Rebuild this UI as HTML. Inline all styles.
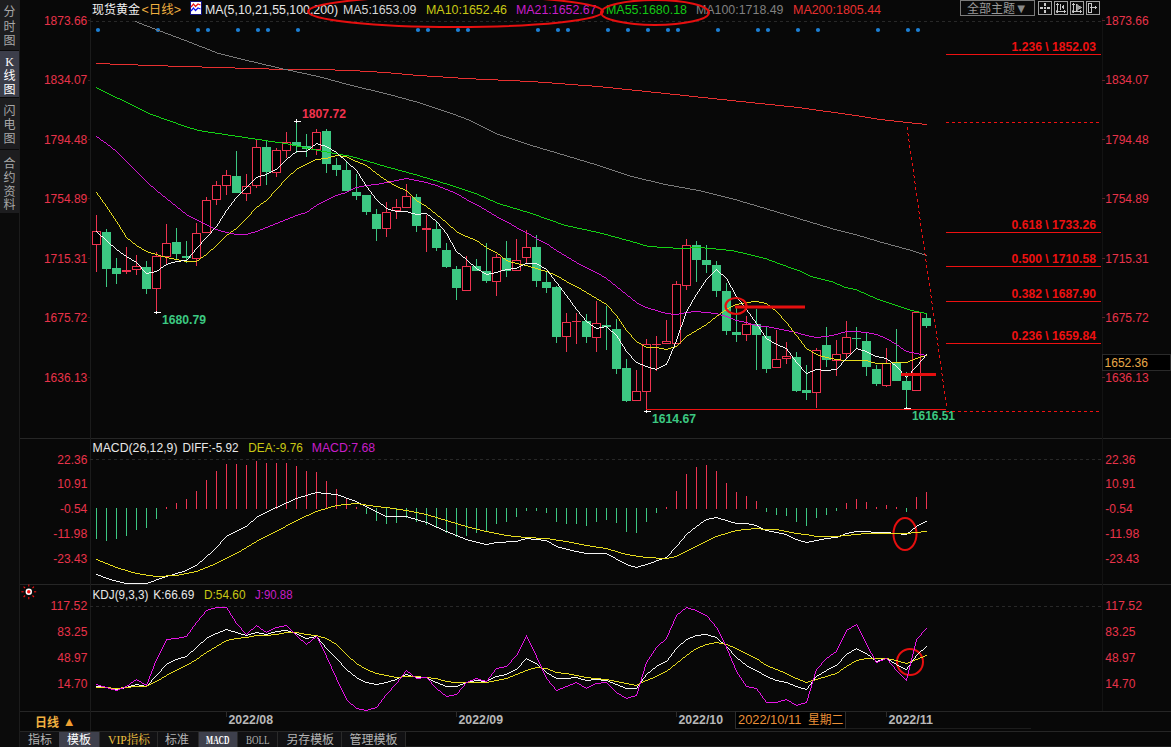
<!DOCTYPE html>
<html><head><meta charset="utf-8"><title>现货黄金 日线</title>
<style>html,body{margin:0;padding:0;background:#080808;}body{width:1171px;height:747px;overflow:hidden;}svg{display:block}text{white-space:pre}</style>
</head><body>
<svg width="1171" height="747" viewBox="0 0 1171 747">
<rect x="0" y="0" width="1171" height="747" fill="#080808"/>
<rect x="0" y="0" width="19" height="747" fill="#0b0b0b"/>
<rect x="0" y="0" width="19" height="50" fill="#1d1d1f"/>
<rect x="0" y="51" width="19" height="46" fill="#3c3e4a"/>
<rect x="0" y="98" width="19" height="51" fill="#1d1d1f"/>
<rect x="0" y="150" width="19" height="63" fill="#1d1d1f"/>
<rect x="19" y="0" width="1" height="747" fill="#1c1c1c"/>
<text fill="#a8a8a8" font-size="12" font-family="&quot;Liberation Sans&quot;,&quot;Noto Sans CJK SC&quot;,sans-serif" text-anchor="middle"><tspan x="9.5" y="15.5">分</tspan><tspan x="9.5" y="30.5">时</tspan><tspan x="9.5" y="44.5">图</tspan></text>
<text fill="#ffffff" font-size="12" font-family="&quot;Liberation Sans&quot;,&quot;Noto Sans CJK SC&quot;,sans-serif" text-anchor="middle"><tspan x="9.5" y="65.5" font-family="&quot;Liberation Serif&quot;,serif">K</tspan><tspan x="9.5" y="79.5">线</tspan><tspan x="9.5" y="93.5">图</tspan></text>
<text fill="#a8a8a8" font-size="12" font-family="&quot;Liberation Sans&quot;,&quot;Noto Sans CJK SC&quot;,sans-serif" text-anchor="middle"><tspan x="9.5" y="114.5">闪</tspan><tspan x="9.5" y="128.5">电</tspan><tspan x="9.5" y="142.5">图</tspan></text>
<text fill="#a8a8a8" font-size="12" font-family="&quot;Liberation Sans&quot;,&quot;Noto Sans CJK SC&quot;,sans-serif" text-anchor="middle"><tspan x="9.5" y="167.5">合</tspan><tspan x="9.5" y="181.5">约</tspan><tspan x="9.5" y="195.5">资</tspan><tspan x="9.5" y="209">料</tspan></text>
<rect x="20" y="438" width="1151" height="1" fill="#262626"/>
<rect x="20" y="584" width="1151" height="1" fill="#262626"/>
<rect x="20" y="711" width="1151" height="1" fill="#262626"/>
<rect x="20" y="731" width="1151" height="1" fill="#262626"/>
<rect x="90" y="18" width="1" height="713" fill="#1b1b1b"/>
<rect x="1102" y="18" width="1" height="693" fill="#131313"/>
<rect x="845" y="728" width="186" height="1" fill="#1c1c1c"/>
<rect x="405" y="746" width="766" height="1" fill="#1c1c1c"/>
<line x1="90" y1="21.5" x2="1102" y2="21.5" stroke="#282828" stroke-width="1" stroke-dasharray="3,3" shape-rendering="crispEdges"/>
<line x1="90" y1="459.5" x2="1102" y2="459.5" stroke="#282828" stroke-width="1" stroke-dasharray="3,3" shape-rendering="crispEdges"/>
<line x1="90" y1="606.5" x2="1102" y2="606.5" stroke="#282828" stroke-width="1" stroke-dasharray="3,3" shape-rendering="crispEdges"/>
<text x="87.3" y="24.8" fill="#e8334a" font-size="12" font-family="&quot;Liberation Sans&quot;,&quot;Noto Sans CJK SC&quot;,sans-serif" font-weight="normal" text-anchor="end" textLength="43.4" lengthAdjust="spacingAndGlyphs" >1873.66</text>
<text x="1105.3" y="24.8" fill="#e8334a" font-size="12" font-family="&quot;Liberation Sans&quot;,&quot;Noto Sans CJK SC&quot;,sans-serif" font-weight="normal" text-anchor="start" textLength="43.4" lengthAdjust="spacingAndGlyphs" >1873.66</text>
<rect x="88" y="20" width="2" height="1" fill="#3a2020"/>
<rect x="1102" y="20" width="3" height="1" fill="#5a2028"/>
<text x="87.3" y="84.3" fill="#e8334a" font-size="12" font-family="&quot;Liberation Sans&quot;,&quot;Noto Sans CJK SC&quot;,sans-serif" font-weight="normal" text-anchor="end" textLength="43.4" lengthAdjust="spacingAndGlyphs" >1834.07</text>
<text x="1105.3" y="84.3" fill="#e8334a" font-size="12" font-family="&quot;Liberation Sans&quot;,&quot;Noto Sans CJK SC&quot;,sans-serif" font-weight="normal" text-anchor="start" textLength="43.4" lengthAdjust="spacingAndGlyphs" >1834.07</text>
<rect x="88" y="80" width="2" height="1" fill="#3a2020"/>
<rect x="1102" y="80" width="3" height="1" fill="#5a2028"/>
<text x="87.3" y="143.8" fill="#e8334a" font-size="12" font-family="&quot;Liberation Sans&quot;,&quot;Noto Sans CJK SC&quot;,sans-serif" font-weight="normal" text-anchor="end" textLength="43.4" lengthAdjust="spacingAndGlyphs" >1794.48</text>
<text x="1105.3" y="143.8" fill="#e8334a" font-size="12" font-family="&quot;Liberation Sans&quot;,&quot;Noto Sans CJK SC&quot;,sans-serif" font-weight="normal" text-anchor="start" textLength="43.4" lengthAdjust="spacingAndGlyphs" >1794.48</text>
<rect x="88" y="139" width="2" height="1" fill="#3a2020"/>
<rect x="1102" y="139" width="3" height="1" fill="#5a2028"/>
<text x="87.3" y="203.10000000000002" fill="#e8334a" font-size="12" font-family="&quot;Liberation Sans&quot;,&quot;Noto Sans CJK SC&quot;,sans-serif" font-weight="normal" text-anchor="end" textLength="43.4" lengthAdjust="spacingAndGlyphs" >1754.89</text>
<text x="1105.3" y="203.10000000000002" fill="#e8334a" font-size="12" font-family="&quot;Liberation Sans&quot;,&quot;Noto Sans CJK SC&quot;,sans-serif" font-weight="normal" text-anchor="start" textLength="43.4" lengthAdjust="spacingAndGlyphs" >1754.89</text>
<rect x="88" y="198" width="2" height="1" fill="#3a2020"/>
<rect x="1102" y="198" width="3" height="1" fill="#5a2028"/>
<text x="87.3" y="262.6" fill="#e8334a" font-size="12" font-family="&quot;Liberation Sans&quot;,&quot;Noto Sans CJK SC&quot;,sans-serif" font-weight="normal" text-anchor="end" textLength="43.4" lengthAdjust="spacingAndGlyphs" >1715.31</text>
<text x="1105.3" y="262.6" fill="#e8334a" font-size="12" font-family="&quot;Liberation Sans&quot;,&quot;Noto Sans CJK SC&quot;,sans-serif" font-weight="normal" text-anchor="start" textLength="43.4" lengthAdjust="spacingAndGlyphs" >1715.31</text>
<rect x="88" y="258" width="2" height="1" fill="#3a2020"/>
<rect x="1102" y="258" width="3" height="1" fill="#5a2028"/>
<text x="87.3" y="322.0" fill="#e8334a" font-size="12" font-family="&quot;Liberation Sans&quot;,&quot;Noto Sans CJK SC&quot;,sans-serif" font-weight="normal" text-anchor="end" textLength="43.4" lengthAdjust="spacingAndGlyphs" >1675.72</text>
<text x="1105.3" y="322.0" fill="#e8334a" font-size="12" font-family="&quot;Liberation Sans&quot;,&quot;Noto Sans CJK SC&quot;,sans-serif" font-weight="normal" text-anchor="start" textLength="43.4" lengthAdjust="spacingAndGlyphs" >1675.72</text>
<rect x="88" y="317" width="2" height="1" fill="#3a2020"/>
<rect x="1102" y="317" width="3" height="1" fill="#5a2028"/>
<text x="87.3" y="381.6" fill="#e8334a" font-size="12" font-family="&quot;Liberation Sans&quot;,&quot;Noto Sans CJK SC&quot;,sans-serif" font-weight="normal" text-anchor="end" textLength="43.4" lengthAdjust="spacingAndGlyphs" >1636.13</text>
<text x="1105.3" y="381.6" fill="#e8334a" font-size="12" font-family="&quot;Liberation Sans&quot;,&quot;Noto Sans CJK SC&quot;,sans-serif" font-weight="normal" text-anchor="start" textLength="43.4" lengthAdjust="spacingAndGlyphs" >1636.13</text>
<rect x="88" y="377" width="2" height="1" fill="#3a2020"/>
<rect x="1102" y="377" width="3" height="1" fill="#5a2028"/>
<text x="87.3" y="463.5" fill="#e8334a" font-size="12" font-family="&quot;Liberation Sans&quot;,&quot;Noto Sans CJK SC&quot;,sans-serif" font-weight="normal" text-anchor="end" textLength="30.0" lengthAdjust="spacingAndGlyphs" >22.36</text>
<text x="1105.3" y="463.5" fill="#e8334a" font-size="12" font-family="&quot;Liberation Sans&quot;,&quot;Noto Sans CJK SC&quot;,sans-serif" font-weight="normal" text-anchor="start" textLength="30.0" lengthAdjust="spacingAndGlyphs" >22.36</text>
<text x="87.3" y="488.3" fill="#e8334a" font-size="12" font-family="&quot;Liberation Sans&quot;,&quot;Noto Sans CJK SC&quot;,sans-serif" font-weight="normal" text-anchor="end" textLength="30.0" lengthAdjust="spacingAndGlyphs" >10.91</text>
<text x="1105.3" y="488.3" fill="#e8334a" font-size="12" font-family="&quot;Liberation Sans&quot;,&quot;Noto Sans CJK SC&quot;,sans-serif" font-weight="normal" text-anchor="start" textLength="30.0" lengthAdjust="spacingAndGlyphs" >10.91</text>
<text x="87.3" y="513.3" fill="#e8334a" font-size="12" font-family="&quot;Liberation Sans&quot;,&quot;Noto Sans CJK SC&quot;,sans-serif" font-weight="normal" text-anchor="end" textLength="27.4" lengthAdjust="spacingAndGlyphs" >-0.54</text>
<text x="1105.3" y="513.3" fill="#e8334a" font-size="12" font-family="&quot;Liberation Sans&quot;,&quot;Noto Sans CJK SC&quot;,sans-serif" font-weight="normal" text-anchor="start" textLength="27.4" lengthAdjust="spacingAndGlyphs" >-0.54</text>
<text x="87.3" y="538.3" fill="#e8334a" font-size="12" font-family="&quot;Liberation Sans&quot;,&quot;Noto Sans CJK SC&quot;,sans-serif" font-weight="normal" text-anchor="end" textLength="34.0" lengthAdjust="spacingAndGlyphs" >-11.98</text>
<text x="1105.3" y="538.3" fill="#e8334a" font-size="12" font-family="&quot;Liberation Sans&quot;,&quot;Noto Sans CJK SC&quot;,sans-serif" font-weight="normal" text-anchor="start" textLength="34.0" lengthAdjust="spacingAndGlyphs" >-11.98</text>
<text x="87.3" y="563.0999999999999" fill="#e8334a" font-size="12" font-family="&quot;Liberation Sans&quot;,&quot;Noto Sans CJK SC&quot;,sans-serif" font-weight="normal" text-anchor="end" textLength="34.0" lengthAdjust="spacingAndGlyphs" >-23.43</text>
<text x="1105.3" y="563.0999999999999" fill="#e8334a" font-size="12" font-family="&quot;Liberation Sans&quot;,&quot;Noto Sans CJK SC&quot;,sans-serif" font-weight="normal" text-anchor="start" textLength="34.0" lengthAdjust="spacingAndGlyphs" >-23.43</text>
<text x="87.3" y="609.9" fill="#e8334a" font-size="12" font-family="&quot;Liberation Sans&quot;,&quot;Noto Sans CJK SC&quot;,sans-serif" font-weight="normal" text-anchor="end" textLength="36.7" lengthAdjust="spacingAndGlyphs" >117.52</text>
<text x="1105.3" y="609.9" fill="#e8334a" font-size="12" font-family="&quot;Liberation Sans&quot;,&quot;Noto Sans CJK SC&quot;,sans-serif" font-weight="normal" text-anchor="start" textLength="36.7" lengthAdjust="spacingAndGlyphs" >117.52</text>
<text x="87.3" y="636.0" fill="#e8334a" font-size="12" font-family="&quot;Liberation Sans&quot;,&quot;Noto Sans CJK SC&quot;,sans-serif" font-weight="normal" text-anchor="end" textLength="30.0" lengthAdjust="spacingAndGlyphs" >83.25</text>
<text x="1105.3" y="636.0" fill="#e8334a" font-size="12" font-family="&quot;Liberation Sans&quot;,&quot;Noto Sans CJK SC&quot;,sans-serif" font-weight="normal" text-anchor="start" textLength="30.0" lengthAdjust="spacingAndGlyphs" >83.25</text>
<text x="87.3" y="662.3" fill="#e8334a" font-size="12" font-family="&quot;Liberation Sans&quot;,&quot;Noto Sans CJK SC&quot;,sans-serif" font-weight="normal" text-anchor="end" textLength="30.0" lengthAdjust="spacingAndGlyphs" >48.97</text>
<text x="1105.3" y="662.3" fill="#e8334a" font-size="12" font-family="&quot;Liberation Sans&quot;,&quot;Noto Sans CJK SC&quot;,sans-serif" font-weight="normal" text-anchor="start" textLength="30.0" lengthAdjust="spacingAndGlyphs" >48.97</text>
<text x="87.3" y="688.3" fill="#e8334a" font-size="12" font-family="&quot;Liberation Sans&quot;,&quot;Noto Sans CJK SC&quot;,sans-serif" font-weight="normal" text-anchor="end" textLength="30.0" lengthAdjust="spacingAndGlyphs" >14.70</text>
<text x="1105.3" y="688.3" fill="#e8334a" font-size="12" font-family="&quot;Liberation Sans&quot;,&quot;Noto Sans CJK SC&quot;,sans-serif" font-weight="normal" text-anchor="start" textLength="30.0" lengthAdjust="spacingAndGlyphs" >14.70</text>
<text x="92" y="14" fill="#f2f2f2" font-size="12" font-family="&quot;Liberation Sans&quot;,&quot;Noto Sans CJK SC&quot;,sans-serif" font-weight="normal" text-anchor="start" textLength="48" lengthAdjust="spacingAndGlyphs" >现货黄金</text>
<text x="141.5" y="14" fill="#f0b040" font-size="12" font-family="&quot;Liberation Sans&quot;,&quot;Noto Sans CJK SC&quot;,sans-serif" font-weight="normal" text-anchor="start" textLength="39.5" lengthAdjust="spacingAndGlyphs" >&lt;日线&gt;</text>
<g shape-rendering="crispEdges"><rect x="190" y="1.5" width="11.5" height="12.5" fill="#ffffff" stroke="#101080" stroke-width="1"/></g>
<polyline points="191,7 193.5,4 195.5,6.5 198,4 200.5,5" fill="none" stroke="#ee1111" stroke-width="1.2"/>
<polyline points="191,11 193.5,8 195.5,10.5 198,8 200.5,9" fill="none" stroke="#1111ee" stroke-width="1.2"/>
<text x="205" y="14" fill="#e8e8e8" font-size="12" font-family="&quot;Liberation Sans&quot;,&quot;Noto Sans CJK SC&quot;,sans-serif" font-weight="normal" text-anchor="start" textLength="133" lengthAdjust="spacingAndGlyphs" >MA(5,10,21,55,100,200)</text>
<text x="343" y="14" fill="#d8d8d8" font-size="12" font-family="&quot;Liberation Sans&quot;,&quot;Noto Sans CJK SC&quot;,sans-serif" font-weight="normal" text-anchor="start" textLength="73.5" lengthAdjust="spacingAndGlyphs" >MA5:1653.09</text>
<text x="426" y="14" fill="#c8c814" font-size="12" font-family="&quot;Liberation Sans&quot;,&quot;Noto Sans CJK SC&quot;,sans-serif" font-weight="normal" text-anchor="start" textLength="81" lengthAdjust="spacingAndGlyphs" >MA10:1652.46</text>
<text x="516" y="14" fill="#c81ec8" font-size="12" font-family="&quot;Liberation Sans&quot;,&quot;Noto Sans CJK SC&quot;,sans-serif" font-weight="normal" text-anchor="start" textLength="80.5" lengthAdjust="spacingAndGlyphs" >MA21:1652.67</text>
<text x="606" y="14" fill="#14c814" font-size="12" font-family="&quot;Liberation Sans&quot;,&quot;Noto Sans CJK SC&quot;,sans-serif" font-weight="normal" text-anchor="start" textLength="81" lengthAdjust="spacingAndGlyphs" >MA55:1680.18</text>
<text x="696" y="14" fill="#808080" font-size="12" font-family="&quot;Liberation Sans&quot;,&quot;Noto Sans CJK SC&quot;,sans-serif" font-weight="normal" text-anchor="start" textLength="87.5" lengthAdjust="spacingAndGlyphs" >MA100:1718.49</text>
<text x="793" y="14" fill="#e83030" font-size="12" font-family="&quot;Liberation Sans&quot;,&quot;Noto Sans CJK SC&quot;,sans-serif" font-weight="normal" text-anchor="start" textLength="88" lengthAdjust="spacingAndGlyphs" >MA200:1805.44</text>
<g shape-rendering="crispEdges">
<rect x="960.5" y="0.5" width="74" height="15" fill="#0a0a0a" stroke="#7c7c7c"/>
<rect x="1038.5" y="1.5" width="13" height="13" fill="#0a0a0a" stroke="#a0a0a0"/>
<rect x="1054.5" y="1.5" width="13" height="13" fill="#0a0a0a" stroke="#a0a0a0"/>
<rect x="1070.5" y="1.5" width="13" height="13" fill="#0a0a0a" stroke="#a0a0a0"/>
<rect x="1086.5" y="1.5" width="13" height="13" fill="#0a0a0a" stroke="#a0a0a0"/>
<rect x="1044" y="3" width="2" height="3" fill="#c8c8c8"/><rect x="1044" y="10" width="2" height="3" fill="#c8c8c8"/><rect x="1040" y="7" width="3" height="2" fill="#c8c8c8"/><rect x="1047" y="7" width="3" height="2" fill="#c8c8c8"/><rect x="1044" y="7" width="2" height="2" fill="#c8c8c8"/>
<rect x="1057" y="3" width="1" height="10" fill="#c8c8c8"/><rect x="1056" y="11" width="10" height="1" fill="#c8c8c8"/>
<rect x="1056" y="4" width="3" height="1" fill="#c8c8c8"/><rect x="1064" y="10" width="1" height="3" fill="#c8c8c8"/><rect x="1056" y="10" width="1" height="3" fill="#c8c8c8" opacity="0.6"/>
<rect x="1073" y="3" width="1" height="10" fill="#c8c8c8"/><rect x="1072" y="11" width="10" height="1" fill="#c8c8c8"/>
<rect x="1072" y="4" width="3" height="1" fill="#c8c8c8"/><rect x="1080" y="10" width="1" height="3" fill="#c8c8c8"/><rect x="1072" y="10" width="1" height="3" fill="#c8c8c8" opacity="0.6"/>
<rect x="1060" y="4" width="1" height="6" fill="#c8c8c8"/>
<polygon points="1061.5,7 1064,4.3 1064,9.7" fill="#c8c8c8"/>
<polygon points="1076,4 1081.5,7.5 1076,11" fill="#989898" stroke="#c8c8c8" stroke-width="0.6"/>
<rect x="1088.5" y="3.5" width="3" height="9" fill="none" stroke="#c8c8c8"/><rect x="1090" y="7" width="6" height="1" fill="#c8c8c8"/>
<polygon points="1094.5,5 1097.5,7.5 1094.5,10" fill="#c8c8c8"/>
</g>
<text x="967" y="13" fill="#9a9a9a" font-size="12" font-family="&quot;Liberation Sans&quot;,&quot;Noto Sans CJK SC&quot;,sans-serif" font-weight="normal" text-anchor="start" textLength="48" lengthAdjust="spacingAndGlyphs" >全部主题</text>
<text x="1014.7" y="13" fill="#8a8a8a" font-size="13" font-family="&quot;Liberation Sans&quot;,&quot;Noto Sans CJK SC&quot;,sans-serif" font-weight="normal" text-anchor="start" >▼</text>
<circle cx="98" cy="30" r="2.1" fill="#1c80d6"/>
<circle cx="158" cy="30" r="2.1" fill="#1c80d6"/>
<circle cx="198" cy="30" r="2.1" fill="#1c80d6"/>
<circle cx="208" cy="30" r="2.1" fill="#1c80d6"/>
<circle cx="238" cy="30" r="2.1" fill="#1c80d6"/>
<circle cx="258" cy="30" r="2.1" fill="#1c80d6"/>
<circle cx="268" cy="30" r="2.1" fill="#1c80d6"/>
<circle cx="298" cy="30" r="2.1" fill="#1c80d6"/>
<circle cx="418" cy="30" r="2.1" fill="#1c80d6"/>
<circle cx="428" cy="30" r="2.1" fill="#1c80d6"/>
<circle cx="458" cy="30" r="2.1" fill="#1c80d6"/>
<circle cx="468" cy="30" r="2.1" fill="#1c80d6"/>
<circle cx="538" cy="30" r="2.1" fill="#1c80d6"/>
<circle cx="558" cy="30" r="2.1" fill="#1c80d6"/>
<circle cx="568" cy="30" r="2.1" fill="#1c80d6"/>
<circle cx="608" cy="30" r="2.1" fill="#1c80d6"/>
<circle cx="628" cy="30" r="2.1" fill="#1c80d6"/>
<circle cx="648" cy="30" r="2.1" fill="#1c80d6"/>
<circle cx="668" cy="30" r="2.1" fill="#1c80d6"/>
<circle cx="678" cy="30" r="2.1" fill="#1c80d6"/>
<circle cx="718" cy="30" r="2.1" fill="#1c80d6"/>
<circle cx="758" cy="30" r="2.1" fill="#1c80d6"/>
<circle cx="768" cy="30" r="2.1" fill="#1c80d6"/>
<circle cx="798" cy="30" r="2.1" fill="#1c80d6"/>
<circle cx="818" cy="30" r="2.1" fill="#1c80d6"/>
<circle cx="878" cy="30" r="2.1" fill="#1c80d6"/>
<circle cx="908" cy="30" r="2.1" fill="#1c80d6"/>
<circle cx="918" cy="30" r="2.1" fill="#1c80d6"/>
<g shape-rendering="crispEdges">
<rect x="96.0" y="215" width="1" height="16" fill="#ee3350"/>
<rect x="96.0" y="245" width="1" height="27" fill="#ee3350"/>
<rect x="92.5" y="231.5" width="8" height="13" fill="#000" stroke="#ee3350" stroke-width="1"/>
<rect x="106.0" y="229" width="1" height="58" fill="#3cc882"/>
<rect x="102.0" y="232" width="9" height="37" fill="#3cc882"/>
<rect x="116.0" y="258" width="1" height="26" fill="#3cc882"/>
<rect x="112.0" y="268" width="9" height="6" fill="#3cc882"/>
<rect x="126.0" y="247" width="1" height="23" fill="#ee3350"/>
<rect x="126.0" y="272" width="1" height="2" fill="#ee3350"/>
<rect x="122.0" y="270" width="9" height="2" fill="#ee3350"/>
<rect x="136.0" y="255" width="1" height="11" fill="#ee3350"/>
<rect x="136.0" y="270" width="1" height="5" fill="#ee3350"/>
<rect x="132.5" y="266.5" width="8" height="3" fill="#000" stroke="#ee3350" stroke-width="1"/>
<rect x="146.0" y="261" width="1" height="33" fill="#3cc882"/>
<rect x="142.0" y="267" width="9" height="22" fill="#3cc882"/>
<rect x="156.0" y="252" width="1" height="4" fill="#ee3350"/>
<rect x="156.0" y="289" width="1" height="23" fill="#ee3350"/>
<rect x="152.5" y="256.5" width="8" height="32" fill="#000" stroke="#ee3350" stroke-width="1"/>
<rect x="166.0" y="224" width="1" height="19" fill="#ee3350"/>
<rect x="166.0" y="257" width="1" height="7" fill="#ee3350"/>
<rect x="162.5" y="243.5" width="8" height="13" fill="#000" stroke="#ee3350" stroke-width="1"/>
<rect x="176.0" y="228" width="1" height="31" fill="#3cc882"/>
<rect x="172.0" y="242" width="9" height="12" fill="#3cc882"/>
<rect x="186.0" y="241" width="1" height="22" fill="#3cc882"/>
<rect x="182.0" y="256" width="9" height="2" fill="#3cc882"/>
<rect x="196.0" y="223" width="1" height="10" fill="#ee3350"/>
<rect x="196.0" y="259" width="1" height="7" fill="#ee3350"/>
<rect x="192.5" y="233.5" width="8" height="25" fill="#000" stroke="#ee3350" stroke-width="1"/>
<rect x="206.0" y="197" width="1" height="3" fill="#ee3350"/>
<rect x="202.5" y="200.5" width="8" height="32" fill="#000" stroke="#ee3350" stroke-width="1"/>
<rect x="216.0" y="181" width="1" height="4" fill="#ee3350"/>
<rect x="216.0" y="200" width="1" height="5" fill="#ee3350"/>
<rect x="212.5" y="185.5" width="8" height="14" fill="#000" stroke="#ee3350" stroke-width="1"/>
<rect x="226.0" y="170" width="1" height="5" fill="#ee3350"/>
<rect x="226.0" y="186" width="1" height="9" fill="#ee3350"/>
<rect x="222.5" y="175.5" width="8" height="10" fill="#000" stroke="#ee3350" stroke-width="1"/>
<rect x="236.0" y="151" width="1" height="42" fill="#3cc882"/>
<rect x="232.0" y="176" width="9" height="17" fill="#3cc882"/>
<rect x="246.0" y="174" width="1" height="12" fill="#ee3350"/>
<rect x="246.0" y="194" width="1" height="7" fill="#ee3350"/>
<rect x="242.5" y="186.5" width="8" height="7" fill="#000" stroke="#ee3350" stroke-width="1"/>
<rect x="256.0" y="140" width="1" height="7" fill="#ee3350"/>
<rect x="256.0" y="186" width="1" height="2" fill="#ee3350"/>
<rect x="252.5" y="147.5" width="8" height="38" fill="#000" stroke="#ee3350" stroke-width="1"/>
<rect x="266.0" y="140" width="1" height="45" fill="#3cc882"/>
<rect x="262.0" y="147" width="9" height="25" fill="#3cc882"/>
<rect x="276.0" y="148" width="1" height="2" fill="#ee3350"/>
<rect x="276.0" y="173" width="1" height="4" fill="#ee3350"/>
<rect x="272.5" y="150.5" width="8" height="22" fill="#000" stroke="#ee3350" stroke-width="1"/>
<rect x="286.0" y="132" width="1" height="10" fill="#ee3350"/>
<rect x="286.0" y="151" width="1" height="7" fill="#ee3350"/>
<rect x="282.5" y="142.5" width="8" height="8" fill="#000" stroke="#ee3350" stroke-width="1"/>
<rect x="296.0" y="121" width="1" height="32" fill="#3cc882"/>
<rect x="292.0" y="142" width="9" height="4" fill="#3cc882"/>
<rect x="306.0" y="134" width="1" height="23" fill="#3cc882"/>
<rect x="302.0" y="146" width="9" height="3" fill="#3cc882"/>
<rect x="316.0" y="129" width="1" height="3" fill="#ee3350"/>
<rect x="316.0" y="150" width="1" height="5" fill="#ee3350"/>
<rect x="312.5" y="132.5" width="8" height="17" fill="#000" stroke="#ee3350" stroke-width="1"/>
<rect x="326.0" y="129" width="1" height="44" fill="#3cc882"/>
<rect x="322.0" y="131" width="9" height="33" fill="#3cc882"/>
<rect x="336.0" y="158" width="1" height="18" fill="#3cc882"/>
<rect x="332.0" y="165" width="9" height="5" fill="#3cc882"/>
<rect x="346.0" y="161" width="1" height="30" fill="#3cc882"/>
<rect x="342.0" y="170" width="9" height="21" fill="#3cc882"/>
<rect x="356.0" y="174" width="1" height="26" fill="#3cc882"/>
<rect x="352.0" y="192" width="9" height="4" fill="#3cc882"/>
<rect x="366.0" y="195" width="1" height="20" fill="#3cc882"/>
<rect x="362.0" y="195" width="9" height="17" fill="#3cc882"/>
<rect x="376.0" y="209" width="1" height="32" fill="#3cc882"/>
<rect x="372.0" y="214" width="9" height="15" fill="#3cc882"/>
<rect x="386.0" y="202" width="1" height="10" fill="#ee3350"/>
<rect x="386.0" y="229" width="1" height="8" fill="#ee3350"/>
<rect x="382.5" y="212.5" width="8" height="16" fill="#000" stroke="#ee3350" stroke-width="1"/>
<rect x="396.0" y="199" width="1" height="8" fill="#ee3350"/>
<rect x="396.0" y="211" width="1" height="8" fill="#ee3350"/>
<rect x="392.5" y="207.5" width="8" height="3" fill="#000" stroke="#ee3350" stroke-width="1"/>
<rect x="406.0" y="184" width="1" height="12" fill="#ee3350"/>
<rect x="402.5" y="196.5" width="8" height="11" fill="#000" stroke="#ee3350" stroke-width="1"/>
<rect x="416.0" y="194" width="1" height="38" fill="#3cc882"/>
<rect x="412.0" y="197" width="9" height="29" fill="#3cc882"/>
<rect x="426.0" y="215" width="1" height="13" fill="#ee3350"/>
<rect x="426.0" y="230" width="1" height="22" fill="#ee3350"/>
<rect x="422.0" y="228" width="9" height="2" fill="#ee3350"/>
<rect x="436.0" y="222" width="1" height="29" fill="#3cc882"/>
<rect x="432.0" y="229" width="9" height="19" fill="#3cc882"/>
<rect x="446.0" y="243" width="1" height="25" fill="#3cc882"/>
<rect x="442.0" y="250" width="9" height="17" fill="#3cc882"/>
<rect x="456.0" y="266" width="1" height="34" fill="#3cc882"/>
<rect x="452.0" y="269" width="9" height="19" fill="#3cc882"/>
<rect x="466.0" y="256" width="1" height="10" fill="#ee3350"/>
<rect x="462.5" y="266.5" width="8" height="24" fill="#000" stroke="#ee3350" stroke-width="1"/>
<rect x="476.0" y="259" width="1" height="12" fill="#3cc882"/>
<rect x="472.0" y="266" width="9" height="5" fill="#3cc882"/>
<rect x="486.0" y="243" width="1" height="40" fill="#3cc882"/>
<rect x="482.0" y="271" width="9" height="10" fill="#3cc882"/>
<rect x="496.0" y="254" width="1" height="3" fill="#ee3350"/>
<rect x="496.0" y="282" width="1" height="14" fill="#ee3350"/>
<rect x="492.5" y="257.5" width="8" height="24" fill="#000" stroke="#ee3350" stroke-width="1"/>
<rect x="506.0" y="241" width="1" height="36" fill="#3cc882"/>
<rect x="502.0" y="258" width="9" height="13" fill="#3cc882"/>
<rect x="516.0" y="239" width="1" height="21" fill="#ee3350"/>
<rect x="512.5" y="260.5" width="8" height="10" fill="#000" stroke="#ee3350" stroke-width="1"/>
<rect x="526.0" y="230" width="1" height="17" fill="#ee3350"/>
<rect x="526.0" y="258" width="1" height="6" fill="#ee3350"/>
<rect x="522.5" y="247.5" width="8" height="10" fill="#000" stroke="#ee3350" stroke-width="1"/>
<rect x="536.0" y="235" width="1" height="52" fill="#3cc882"/>
<rect x="532.0" y="247" width="9" height="34" fill="#3cc882"/>
<rect x="546.0" y="272" width="1" height="21" fill="#3cc882"/>
<rect x="542.0" y="282" width="9" height="6" fill="#3cc882"/>
<rect x="556.0" y="286" width="1" height="57" fill="#3cc882"/>
<rect x="552.0" y="287" width="9" height="50" fill="#3cc882"/>
<rect x="566.0" y="313" width="1" height="9" fill="#ee3350"/>
<rect x="566.0" y="337" width="1" height="15" fill="#ee3350"/>
<rect x="562.5" y="322.5" width="8" height="14" fill="#000" stroke="#ee3350" stroke-width="1"/>
<rect x="576.0" y="313" width="1" height="8" fill="#ee3350"/>
<rect x="576.0" y="322" width="1" height="22" fill="#ee3350"/>
<rect x="572.0" y="321" width="9" height="1" fill="#ee3350"/>
<rect x="586.0" y="314" width="1" height="29" fill="#3cc882"/>
<rect x="582.0" y="321" width="9" height="16" fill="#3cc882"/>
<rect x="596.0" y="301" width="1" height="22" fill="#ee3350"/>
<rect x="596.0" y="338" width="1" height="14" fill="#ee3350"/>
<rect x="592.5" y="323.5" width="8" height="14" fill="#000" stroke="#ee3350" stroke-width="1"/>
<rect x="606.0" y="306" width="1" height="44" fill="#3cc882"/>
<rect x="602.0" y="325" width="9" height="2" fill="#3cc882"/>
<rect x="616.0" y="319" width="1" height="55" fill="#3cc882"/>
<rect x="612.0" y="329" width="9" height="40" fill="#3cc882"/>
<rect x="626.0" y="359" width="1" height="43" fill="#3cc882"/>
<rect x="622.0" y="368" width="9" height="33" fill="#3cc882"/>
<rect x="636.0" y="370" width="1" height="21" fill="#ee3350"/>
<rect x="632.5" y="391.5" width="8" height="9" fill="#000" stroke="#ee3350" stroke-width="1"/>
<rect x="646.0" y="339" width="1" height="5" fill="#ee3350"/>
<rect x="646.0" y="392" width="1" height="20" fill="#ee3350"/>
<rect x="642.5" y="344.5" width="8" height="47" fill="#000" stroke="#ee3350" stroke-width="1"/>
<rect x="656.0" y="336" width="1" height="8" fill="#ee3350"/>
<rect x="656.0" y="345" width="1" height="26" fill="#ee3350"/>
<rect x="652.0" y="344" width="9" height="1" fill="#ee3350"/>
<rect x="666.0" y="320" width="1" height="21" fill="#ee3350"/>
<rect x="662.5" y="341.5" width="8" height="2" fill="#000" stroke="#ee3350" stroke-width="1"/>
<rect x="676.0" y="281" width="1" height="3" fill="#ee3350"/>
<rect x="672.5" y="284.5" width="8" height="59" fill="#000" stroke="#ee3350" stroke-width="1"/>
<rect x="686.0" y="239" width="1" height="6" fill="#ee3350"/>
<rect x="686.0" y="286" width="1" height="4" fill="#ee3350"/>
<rect x="682.5" y="245.5" width="8" height="40" fill="#000" stroke="#ee3350" stroke-width="1"/>
<rect x="696.0" y="241" width="1" height="41" fill="#3cc882"/>
<rect x="692.0" y="245" width="9" height="15" fill="#3cc882"/>
<rect x="706.0" y="245" width="1" height="28" fill="#3cc882"/>
<rect x="702.0" y="260" width="9" height="5" fill="#3cc882"/>
<rect x="716.0" y="261" width="1" height="36" fill="#3cc882"/>
<rect x="712.0" y="265" width="9" height="26" fill="#3cc882"/>
<rect x="726.0" y="283" width="1" height="52" fill="#3cc882"/>
<rect x="722.0" y="291" width="9" height="40" fill="#3cc882"/>
<rect x="736.0" y="308" width="1" height="34" fill="#3cc882"/>
<rect x="732.0" y="332" width="9" height="3" fill="#3cc882"/>
<rect x="746.0" y="316" width="1" height="8" fill="#ee3350"/>
<rect x="746.0" y="335" width="1" height="6" fill="#ee3350"/>
<rect x="742.5" y="324.5" width="8" height="10" fill="#000" stroke="#ee3350" stroke-width="1"/>
<rect x="756.0" y="309" width="1" height="61" fill="#3cc882"/>
<rect x="752.0" y="324" width="9" height="11" fill="#3cc882"/>
<rect x="766.0" y="327" width="1" height="46" fill="#3cc882"/>
<rect x="762.0" y="336" width="9" height="33" fill="#3cc882"/>
<rect x="776.0" y="330" width="1" height="29" fill="#ee3350"/>
<rect x="772.5" y="359.5" width="8" height="8" fill="#000" stroke="#ee3350" stroke-width="1"/>
<rect x="786.0" y="342" width="1" height="14" fill="#ee3350"/>
<rect x="786.0" y="359" width="1" height="5" fill="#ee3350"/>
<rect x="782.5" y="356.5" width="8" height="2" fill="#000" stroke="#ee3350" stroke-width="1"/>
<rect x="796.0" y="352" width="1" height="40" fill="#3cc882"/>
<rect x="792.0" y="357" width="9" height="34" fill="#3cc882"/>
<rect x="806.0" y="365" width="1" height="35" fill="#3cc882"/>
<rect x="802.0" y="390" width="9" height="3" fill="#3cc882"/>
<rect x="816.0" y="348" width="1" height="2" fill="#ee3350"/>
<rect x="816.0" y="393" width="1" height="15" fill="#ee3350"/>
<rect x="812.5" y="350.5" width="8" height="42" fill="#000" stroke="#ee3350" stroke-width="1"/>
<rect x="826.0" y="327" width="1" height="40" fill="#3cc882"/>
<rect x="822.0" y="345" width="9" height="15" fill="#3cc882"/>
<rect x="836.0" y="340" width="1" height="14" fill="#ee3350"/>
<rect x="836.0" y="361" width="1" height="15" fill="#ee3350"/>
<rect x="832.5" y="354.5" width="8" height="6" fill="#000" stroke="#ee3350" stroke-width="1"/>
<rect x="846.0" y="321" width="1" height="16" fill="#ee3350"/>
<rect x="846.0" y="354" width="1" height="5" fill="#ee3350"/>
<rect x="842.5" y="337.5" width="8" height="16" fill="#000" stroke="#ee3350" stroke-width="1"/>
<rect x="856.0" y="327" width="1" height="21" fill="#3cc882"/>
<rect x="852.0" y="338" width="9" height="1" fill="#3cc882"/>
<rect x="866.0" y="333" width="1" height="43" fill="#3cc882"/>
<rect x="862.0" y="341" width="9" height="26" fill="#3cc882"/>
<rect x="876.0" y="365" width="1" height="21" fill="#3cc882"/>
<rect x="872.0" y="369" width="9" height="15" fill="#3cc882"/>
<rect x="886.0" y="348" width="1" height="15" fill="#ee3350"/>
<rect x="886.0" y="386" width="1" height="1" fill="#ee3350"/>
<rect x="882.5" y="363.5" width="8" height="22" fill="#000" stroke="#ee3350" stroke-width="1"/>
<rect x="896.0" y="329" width="1" height="52" fill="#3cc882"/>
<rect x="892.0" y="363" width="9" height="18" fill="#3cc882"/>
<rect x="906.0" y="372" width="1" height="37" fill="#3cc882"/>
<rect x="902.0" y="381" width="9" height="9" fill="#3cc882"/>
<rect x="912.5" y="312.5" width="8" height="78" fill="#000" stroke="#ee3350" stroke-width="1"/>
<rect x="926.0" y="313" width="1" height="15" fill="#3cc882"/>
<rect x="922.0" y="318" width="9" height="8" fill="#3cc882"/>
</g>
<path d="M765 104.5h10M727 100.5h9M912 123.5h10M865 117.5h6M802 108.5h7M335 70.5h25M427 76.5h16M476 79.5h22M922 124.5h5M809 109.5h7M269 69.5h66M689 96.5h9M552 83.5h13M202 67.5h33M96 63.5h14M168 66.5h34M377 72.5h14M859 116.5h6M816 110.5h7M698 97.5h10M565 84.5h13M592 86.5h11M110 64.5h28M823 111.5h8M458 78.5h18M708 98.5h9M578 85.5h14M838 113.5h7M622 89.5h10M443 77.5h15M498 80.5h22M871 118.5h6M831 112.5h7M736 101.5h10M755 103.5h10M680 95.5h9M903 122.5h9M613 88.5h9M520 81.5h18M235 68.5h34M632 90.5h10M360 71.5h17M391 73.5h11M746 102.5h9M894 121.5h9M138 65.5h30M402 74.5h11M775 105.5h9M717 99.5h10M651 92.5h10M670 94.5h10M413 75.5h14M661 93.5h9M845 114.5h7M877 119.5h8M603 87.5h10M538 82.5h14M885 120.5h9M642 91.5h9M784 106.5h10M794 107.5h8M852 115.5h7" fill="none" stroke="#e83030" stroke-width="1" shape-rendering="crispEdges"/>
<path d="M743 202.5h4M790 216.5h4M402 98.5h4M176 37.5h3M466 119.5h3M922 254.5h3M279 68.5h4M533 146.5h4M509 138.5h3M383 93.5h4M590 163.5h4M406 99.5h3M168 34.5h3M685 188.5h5M764 208.5h3M663 184.5h5M241 59.5h4M737 200.5h3M302 73.5h5M283 69.5h5M820 225.5h3M512 139.5h3M841 231.5h4M594 164.5h3M895 246.5h4M181 39.5h3M471 121.5h2M221 54.5h4M627 175.5h3M717 195.5h4M701 191.5h4M262 64.5h4M668 185.5h6M245 60.5h4M651 181.5h4M740 201.5h3M503 136.5h3M803 220.5h4M537 147.5h3M823 226.5h4M342 83.5h4M877 241.5h3M173 36.5h3M899 247.5h3M630 176.5h4M767 209.5h3M324 78.5h4M567 156.5h3M362 88.5h4M540 148.5h3M139 23.5h3M438 109.5h3M750 204.5h4M184 40.5h3M797 218.5h3M366 89.5h5M543 149.5h4M266 65.5h5M770 210.5h4M624 174.5h3M441 110.5h3M515 140.5h3M229 56.5h4M297 72.5h5M845 232.5h4M432 107.5h3M597 165.5h3M135 21.5h2M674 186.5h5M249 61.5h5M320 77.5h4M179 38.5h2M827 227.5h3M518 141.5h3M800 219.5h3M387 94.5h4M849 233.5h4M435 108.5h3M902 248.5h4M747 203.5h3M830 228.5h3M350 85.5h4M391 95.5h4M906 249.5h4M225 55.5h4M721 196.5h4M774 211.5h3M331 80.5h4M409 100.5h4M547 150.5h3M880 242.5h4M199 46.5h3M757 206.5h3M189 42.5h3M293 71.5h4M147 26.5h3M550 151.5h4M777 212.5h3M570 157.5h4M447 112.5h3M606 168.5h3M192 43.5h2M142 24.5h2M655 182.5h4M780 213.5h4M346 84.5h4M521 142.5h3M307 74.5h4M853 234.5h4M413 101.5h4M634 177.5h4M609 169.5h3M194 44.5h3M328 79.5h3M833 229.5h4M807 221.5h3M395 96.5h3M857 235.5h3M600 166.5h3M187 41.5h2M417 102.5h3M580 160.5h4M210 50.5h2M288 70.5h5M271 66.5h4M527 144.5h3M810 222.5h3M398 97.5h4M152 28.5h3M233 57.5h4M638 178.5h4M729 198.5h4M813 223.5h4M574 158.5h3M371 90.5h4M144 25.5h3M888 244.5h3M709 193.5h4M205 48.5h2M690 189.5h6M311 75.5h5M557 153.5h3M784 214.5h3M530 145.5h3M577 159.5h3M157 30.5h3M612 170.5h3M787 215.5h3M354 86.5h4M760 207.5h4M254 62.5h4M860 236.5h4M150 27.5h2M420 103.5h3M450 113.5h3M615 171.5h3M481 126.5h2M473 122.5h2M217 53.5h4M275 67.5h4M258 63.5h4M524 143.5h3M423 104.5h3M754 205.5h3M237 58.5h4M497 134.5h3M837 230.5h4M696 190.5h5M913 251.5h3M477 124.5h2M469 120.5h2M646 180.5h5M500 135.5h3M212 51.5h3M491 131.5h2M160 31.5h3M379 92.5h4M554 152.5h3M461 117.5h3M679 187.5h6M358 87.5h4M584 161.5h3M163 32.5h2M453 114.5h3M618 172.5h3M464 118.5h2M495 133.5h2M713 194.5h4M207 49.5h3M487 129.5h2M479 125.5h2M560 154.5h4M426 105.5h3M659 183.5h4M642 179.5h4M621 173.5h3M335 81.5h4M864 237.5h3M429 106.5h3M587 162.5h3M483 127.5h2M475 123.5h2M817 224.5h3M867 238.5h3M919 253.5h3M506 137.5h3M171 35.5h2M564 155.5h3M925 255.5h2M339 82.5h3M794 217.5h3M165 33.5h3M603 167.5h3M870 239.5h4M891 245.5h4M316 76.5h4M874 240.5h3M705 192.5h4M725 197.5h4M444 111.5h3M137 22.5h2M197 45.5h2M884 243.5h4M202 47.5h3M456 115.5h2M916 252.5h3M215 52.5h2M910 250.5h3M733 199.5h4M375 91.5h4M458 116.5h3M489 130.5h2M493 132.5h2M485 128.5h2M155 29.5h2" fill="none" stroke="#7a7a7a" stroke-width="1" shape-rendering="crispEdges"/>
<path d="M817 278.5h4M468 191.5h3M853 289.5h4M228 135.5h7M591 231.5h5M747 254.5h4M181 125.5h3M387 167.5h4M513 208.5h4M573 227.5h4M657 247.5h16M690 247.5h15M673 248.5h17M705 248.5h11M242 137.5h6M615 237.5h4M726 250.5h8M769 260.5h3M907 309.5h3M857 290.5h2M173 122.5h3M275 142.5h7M633 242.5h4M235 136.5h7M338 154.5h5M577 228.5h5M786 266.5h2M311 149.5h5M919 312.5h5M777 263.5h3M848 288.5h5M861 292.5h3M901 307.5h3M550 220.5h3M202 131.5h6M924 313.5h3M637 243.5h3M780 264.5h3M821 279.5h4M471 192.5h3M409 173.5h4M144 111.5h2M517 209.5h3M248 138.5h7M619 238.5h3M208 132.5h7M413 174.5h4M734 251.5h4M640 244.5h3M215 133.5h7M187 127.5h3M321 151.5h6M293 145.5h4M520 210.5h3M582 229.5h5M367 161.5h3M622 239.5h4M477 194.5h2M643 245.5h4M440 182.5h3M148 113.5h2M190 128.5h4M140 109.5h2M262 140.5h6M493 201.5h2M222 134.5h6M327 152.5h5M596 232.5h4M751 255.5h4M443 183.5h4M423 177.5h4M495 202.5h2M486 198.5h2M910 310.5h4M558 223.5h3M600 233.5h4M488 199.5h2M788 267.5h3M479 195.5h2M184 126.5h3M288 144.5h5M883 301.5h3M126 102.5h2M117 98.5h3M437 181.5h3M417 175.5h3M490 200.5h3M481 196.5h3M875 298.5h2M523 211.5h4M904 308.5h3M553 221.5h3M420 176.5h3M391 168.5h4M647 246.5h10M150 114.5h3M484 197.5h2M825 280.5h4M474 193.5h3M806 274.5h2M877 299.5h3M332 153.5h6M527 212.5h3M755 256.5h4M122 100.5h2M374 163.5h3M113 96.5h2M105 92.5h2M808 275.5h2M800 271.5h2M447 184.5h3M880 300.5h3M197 130.5h5M870 296.5h3M107 93.5h2M604 234.5h4M99 89.5h2M316 150.5h5M759 257.5h4M450 185.5h3M791 268.5h3M914 311.5h5M626 240.5h4M810 276.5h3M864 293.5h2M500 204.5h3M844 287.5h4M343 155.5h6M738 252.5h5M564 225.5h4M109 94.5h2M101 90.5h2M804 273.5h2M132 105.5h2M453 186.5h3M794 269.5h3M124 101.5h2M837 284.5h3M297 146.5h5M156 116.5h3M103 91.5h2M568 226.5h5M797 270.5h3M840 285.5h2M159 117.5h2M530 213.5h3M302 147.5h5M282 143.5h6M427 178.5h3M398 170.5h4M743 253.5h4M128 103.5h2M842 286.5h2M120 99.5h2M833 282.5h2M161 118.5h3M763 258.5h4M194 129.5h3M380 165.5h4M630 241.5h3M813 277.5h4M886 302.5h3M153 115.5h3M536 215.5h3M716 249.5h10M611 236.5h4M430 179.5h3M170 121.5h3M433 180.5h4M503 205.5h4M889 303.5h3M349 156.5h4M539 216.5h2M587 230.5h4M164 119.5h3M255 139.5h7M268 141.5h7M892 304.5h3M353 157.5h4M541 217.5h3M406 172.5h3M167 120.5h3M533 214.5h3M608 235.5h3M384 166.5h3M507 206.5h3M459 188.5h3M783 265.5h3M510 207.5h3M895 305.5h3M357 158.5h3M307 148.5h4M775 262.5h2M462 189.5h3M176 123.5h2M898 306.5h3M360 159.5h3M547 219.5h3M866 294.5h2M772 261.5h3M859 291.5h2M544 218.5h3M465 190.5h3M178 124.5h3M363 160.5h4M556 222.5h2M115 97.5h2M146 112.5h2M395 169.5h3M873 297.5h2M370 162.5h4M111 95.5h2M142 110.5h2M134 106.5h2M868 295.5h2M136 107.5h2M497 203.5h3M561 224.5h3M138 108.5h2M130 104.5h2M402 171.5h4M829 281.5h4M377 164.5h3M835 283.5h2M456 187.5h3M767 259.5h2M97 88.5h2M802 272.5h2M96.5 87v1" fill="none" stroke="#14d214" stroke-width="1" shape-rendering="crispEdges"/>
<path d="M225 232.5h4M251 232.5h4M525 232.5h2M371 184.5h8M431 184.5h4M163 196.5h2M333 196.5h2M671 314.5h8M718 314.5h3M655 310.5h3M199 221.5h2M280 221.5h3M505 221.5h2M218 230.5h3M258 230.5h2M521 230.5h2M209 226.5h2M268 226.5h2M514 226.5h2M389 181.5h5M419 181.5h5M323 201.5h2M469 201.5h2M331 197.5h2M462 197.5h2M221 231.5h4M255 231.5h3M523 231.5h2M661 312.5h4M684 312.5h7M701 312.5h10M168 200.5h2M325 200.5h2M467 200.5h2M801 334.5h4M834 334.5h4M874 334.5h4M577 263.5h2M329 198.5h2M464 198.5h2M399 179.5h5M409 179.5h5M394 180.5h5M414 180.5h5M338 194.5h3M457 194.5h2M794 332.5h4M841 332.5h4M861 332.5h8M551 247.5h2M193 218.5h2M288 218.5h2M499 218.5h2M784 330.5h5M735 320.5h4M347 191.5h2M450 191.5h3M355 187.5h4M440 187.5h3M215 229.5h3M260 229.5h3M519 229.5h2M665 313.5h6M679 313.5h5M711 313.5h7M108 145.5h2M755 325.5h6M189 216.5h2M293 216.5h2M739 321.5h5M195 219.5h2M285 219.5h3M501 219.5h2M207 225.5h2M270 225.5h3M512 225.5h2M595 272.5h2M187 215.5h2M295 215.5h3M494 215.5h2M789 331.5h5M845 331.5h16M914 353.5h5M353 188.5h2M443 188.5h2M404 178.5h5M554 249.5h2M229 233.5h5M248 233.5h3M527 233.5h2M101 140.5h2M364 185.5h7M435 185.5h3M197 220.5h2M283 220.5h2M503 220.5h2M628 296.5h2M809 336.5h5M821 336.5h8M880 336.5h3M805 335.5h4M829 335.5h5M878 335.5h2M761 326.5h8M211 227.5h2M265 227.5h3M234 234.5h14M529 234.5h2M351 189.5h2M445 189.5h3M384 182.5h5M424 182.5h4M599 274.5h2M191 217.5h2M290 217.5h3M497 217.5h2M591 270.5h2M583 266.5h2M151 186.5h2M359 186.5h5M438 186.5h2M178 208.5h2M311 208.5h2M482 208.5h2M798 333.5h3M838 333.5h3M869 333.5h5M909 352.5h5M585 267.5h2M484 209.5h2M814 337.5h7M883 337.5h2M897 345.5h2M587 268.5h2M774 328.5h5M579 264.5h2M581 265.5h2M203 223.5h2M275 223.5h3M509 223.5h2M892 342.5h2M572 260.5h2M894 343.5h2M919 354.5h5M547 244.5h2M213 228.5h2M263 228.5h2M517 228.5h2M539 240.5h2M205 224.5h2M273 224.5h2M885 338.5h2M307 211.5h2M487 211.5h2M769 327.5h5M298 214.5h3M492 214.5h2M104 142.5h2M569 258.5h2M541 241.5h2M201 222.5h2M278 222.5h2M507 222.5h2M183 212.5h2M305 212.5h2M489 212.5h2M613 284.5h2M97 137.5h2M543 242.5h2M301 213.5h4M341 193.5h4M455 193.5h2M639 304.5h2M327 199.5h2M545 243.5h2M477 205.5h2M643 306.5h2M904 350.5h2M564 255.5h2M779 329.5h5M748 323.5h3M567 257.5h2M721 315.5h4M906 351.5h3M379 183.5h5M428 183.5h3M651 309.5h4M534 237.5h2M314 206.5h2M479 206.5h2M173 204.5h2M317 204.5h2M475 204.5h2M645 307.5h3M319 203.5h2M473 203.5h2M608 280.5h2M557 251.5h2M648 308.5h3M349 190.5h2M448 190.5h2M321 202.5h2M471 202.5h2M658 311.5h3M691 311.5h10M158 192.5h2M345 192.5h2M453 192.5h2M728 317.5h2M924 355.5h3M730 318.5h3M751 324.5h4M733 319.5h2M725 316.5h3M559 252.5h2M604 277.5h2M597 273.5h2M589 269.5h2M335 195.5h3M459 195.5h2M593 271.5h2M744 322.5h4M574 261.5h2M537 239.5h2M887 339.5h2M641 305.5h2M532 236.5h2M637 303.5h2M889 340.5h2M113 149.5h2M562 254.5h2M633 300.5h2M901 348.5h2M618 288.5h2M602 276.5h2M623 292.5h2M186.5 214v1M161.5 194v1M549.5 245v1M172.5 203v1M132.5 167v1M461.5 196v1M536.5 238v1M111.5 147v1M128.5 163v1M162.5 195v1M550.5 246v1M176.5 206v1M112.5 148v1M129.5 164v1M620.5 289v1M627.5 295v1M621.5 290v1M531.5 235v1M139.5 174v1M156.5 190v1M635.5 301v1M610.5 281v1M135.5 170v1M566.5 256v1M170.5 201v1M106.5 143v1M130.5 165v1M136.5 171v1M466.5 199v1M171.5 202v1M622.5 291v1M516.5 227v1M182.5 211v1M899.5 346v1M153.5 187v1M900.5 347v1M511.5 224v1M137.5 172v1M154.5 188v1M165.5 197v1M133.5 168v1M143.5 178v1M556.5 250v1M115.5 150v1M310.5 209v1M607.5 279v1M571.5 259v1M180.5 209v1M181.5 210v1M632.5 299v1M99.5 138v1M601.5 275v1M134.5 169v1M144.5 179v1M100.5 139v1M157.5 191v1M140.5 175v1M107.5 144v1M615.5 285v1M141.5 176v1M118.5 153v1M553.5 248v1M616.5 286v1M146.5 181v1M576.5 262v1M630.5 297v1M147.5 182v1M142.5 177v1M481.5 207v1M631.5 298v1M138.5 173v1M155.5 189v1M606.5 278v1M148.5 183v1M166.5 198v1M120.5 155v1M177.5 207v1M309.5 210v1M116.5 151v1M167.5 199v1M122.5 157v1M625.5 293v1M149.5 184v1M491.5 213v1M185.5 213v1M160.5 193v1M145.5 180v1M150.5 185v1M127.5 162v1M903.5 349v1M486.5 210v1M123.5 158v1M891.5 341v1M175.5 205v1M119.5 154v1M124.5 159v1M617.5 287v1M96.5 136v1M496.5 216v1M125.5 160v1M636.5 302v1M103.5 141v1M611.5 282v1M126.5 161v1M121.5 156v1M131.5 166v1M313.5 207v1M117.5 152v1M110.5 146v1M612.5 283v1M896.5 344v1M561.5 253v1M316.5 205v1M626.5 294v1" fill="none" stroke="#d214d2" stroke-width="1" shape-rendering="crispEdges"/>
<path d="M519 264.5h5M184 261.5h13M508 261.5h3M841 360.5h27M910 360.5h3M809 350.5h2M155 254.5h3M498 254.5h2M311 161.5h2M355 161.5h3M328 157.5h3M347 157.5h2M161 256.5h4M697 329.5h2M829 358.5h5M915 358.5h3M564 280.5h2M470 238.5h3M689 334.5h2M321 158.5h7M349 158.5h2M751 301.5h8M721 312.5h2M692 332.5h2M713 318.5h2M834 359.5h7M913 359.5h2M515 263.5h4M451 227.5h2M301 166.5h2M309 162.5h2M358 162.5h2M604 303.5h2M739 303.5h5M764 303.5h3M387 181.5h2M299 167.5h2M368 167.5h2M659 348.5h5M668 348.5h3M477 241.5h2M428 208.5h2M735 304.5h4M562 279.5h2M305 164.5h2M363 164.5h2M871 362.5h4M891 362.5h17M169 258.5h5M503 258.5h2M146 251.5h2M493 251.5h2M475 240.5h2M381 177.5h2M151 253.5h4M557 276.5h2M599 300.5h2M704 325.5h2M646 347.5h13M671 347.5h4M602 302.5h2M744 302.5h7M759 302.5h5M550 273.5h3M144 250.5h2M491 250.5h2M142 249.5h2M211 249.5h2M489 249.5h2M231 231.5h2M594 297.5h2M405 190.5h2M541 270.5h4M165 257.5h4M201 257.5h2M664 349.5h4M807 349.5h2M468 237.5h2M443 220.5h2M524 265.5h4M257 206.5h2M128 239.5h2M473 239.5h2M148 252.5h3M495 252.5h2M545 271.5h3M821 356.5h4M921 356.5h4M875 363.5h16M424 205.5h2M139 247.5h2M597 299.5h2M438 216.5h2M377 174.5h2M373 171.5h2M419 202.5h2M642 345.5h2M422 204.5h2M297 168.5h2M773 309.5h2M137 246.5h2M484 246.5h2M158 255.5h3M204 255.5h2M465 236.5h3M315 159.5h6M351 159.5h2M511 262.5h4M174 259.5h5M335 155.5h6M179 260.5h5M197 260.5h2M506 260.5h2M587 293.5h2M699 328.5h2M589 294.5h2M582 290.5h2M227 234.5h2M461 234.5h2M400 188.5h3M481 244.5h2M812 352.5h2M433 212.5h2M717 315.5h2M403 189.5h2M394 185.5h2M331 156.5h4M341 156.5h6M868 361.5h3M908 361.5h2M234 229.5h2M528 266.5h3M396 186.5h2M733 305.5h2M768 305.5h2M816 354.5h2M459 233.5h2M389 182.5h2M264 201.5h2M417 201.5h2M531 267.5h4M398 187.5h2M644 346.5h2M675 346.5h2M731 306.5h2M825 357.5h4M918 357.5h3M687 335.5h2M392 184.5h2M463 235.5h2M818 355.5h3M925 355.5h2M729 307.5h2M637 342.5h2M702 326.5h2M575 286.5h2M639 343.5h2M535 268.5h3M577 287.5h2M569 283.5h2M538 269.5h3M579 288.5h2M571 284.5h2M573 285.5h2M384 179.5h2M567 282.5h2M724 310.5h2M303 165.5h2M365 165.5h2M457 232.5h2M694 331.5h2M307 163.5h2M360 163.5h3M487 248.5h2M313 160.5h2M353 160.5h2M548 272.5h2M559 277.5h2M553 274.5h2M555 275.5h2M592 296.5h2M708 322.5h2M727 308.5h2M291 173.5h2M261 203.5h2M584 291.5h2M814 353.5h2M133 243.5h2M483.5 245v1M430.5 209v1M780.5 315v1M581.5 289v1M242.5 222v1M278.5 187v1M803.5 344v1M249.5 215v1M601.5 301v1M279.5 186v1M250.5 214v1M281.5 183v2M110.5 212v1M614.5 313v1M442.5 219v1M240.5 224v1M416.5 200v1M277.5 188v1M804.5 345v2M608.5 306v1M248.5 216v1M412.5 196v1M723.5 311v1M97.5 193v2M141.5 248v1M781.5 316v2M609.5 307v1M408.5 192v1M566.5 281v1M233.5 230v1M627.5 331v1M413.5 197v1M102.5 200v2M111.5 213v2M777.5 312v1M119.5 225v2M707.5 323v1M628.5 332v1M770.5 306v1M619.5 319v2M237.5 227v1M367.5 166v1M103.5 202v1M221.5 240v1M124.5 233v2M792.5 330v1M680.5 342v1M691.5 333v1M711.5 320v1M801.5 341v2M561.5 278v1M712.5 319v1M115.5 219v2M623.5 325v2M610.5 308v1M100.5 197v2M427.5 207v1M270.5 196v1M283.5 181v1M236.5 228v1M254.5 209v1M220.5 241v1M255.5 208v1M290.5 174v1M414.5 198v1M606.5 304v1M678.5 344v1M120.5 227v2M117.5 222v2M679.5 343v1M415.5 199v1M375.5 172v1M268.5 198v1M269.5 197v1M252.5 211v1M421.5 203v1M289.5 175v1M104.5 203v1M218.5 243v1M125.5 235v2M793.5 331v1M621.5 322v2M772.5 308v1M295.5 170v1M630.5 334v1M802.5 343v1M130.5 240v1M98.5 195v1M497.5 253v1M453.5 228v1M109.5 210v2M131.5 241v1M626.5 330v1M293.5 172v1M794.5 332v2M788.5 324v2M631.5 335v2M200.5 258v1M625.5 328v2M435.5 213v1M376.5 173v1M113.5 216v2M276.5 189v1M210.5 250v1M505.5 259v1M199.5 259v1M114.5 218v1M383.5 178v1M122.5 230v2M454.5 229v1M790.5 327v1M436.5 214v1M799.5 339v1M132.5 242v1M238.5 226v1M275.5 190v1M726.5 309v1M246.5 218v1M681.5 341v1M203.5 256v1M101.5 199v1M455.5 230v1M118.5 224v1M126.5 237v1M273.5 192v1M271.5 194v2M456.5 231v1M244.5 220v1M274.5 191v1M771.5 307v1M426.5 206v1M479.5 242v1M716.5 316v1M123.5 232v1M791.5 328v2M706.5 324v1M800.5 340v1M243.5 221v1M259.5 205v1M486.5 247v1M296.5 169v1M107.5 207v2M686.5 336v1M715.5 317v1M720.5 313v1M624.5 327v1M253.5 210v1M710.5 321v1M786.5 322v1M127.5 238v1M795.5 334v1M294.5 171v1M263.5 202v1M480.5 243v1M445.5 221v1M782.5 318v1M719.5 314v1M677.5 345v1M96.5 192v1M105.5 204v2M267.5 199v1M108.5 209v1M216.5 245v1M287.5 177v1M217.5 244v1M251.5 212v2M288.5 176v1M224.5 237v1M615.5 314v1M502.5 257v1M214.5 247v1M617.5 316v2M247.5 217v1M215.5 246v1M798.5 337v2M222.5 239v1M789.5 326v1M286.5 178v1M285.5 179v1M209.5 251v1M611.5 309v2M783.5 319v1M370.5 168v1M245.5 219v1M767.5 304v1M784.5 320v1M437.5 215v1M207.5 253v1M208.5 252v1M448.5 224v1M618.5 318v1M206.5 254v1M371.5 169v1M775.5 310v1M613.5 312v1M500.5 255v1M272.5 193v1M622.5 324v1M431.5 210v1M226.5 235v1M449.5 225v1M685.5 337v1M106.5 206v1M372.5 170v1M391.5 183v1M811.5 351v1M701.5 327v1M632.5 337v1M501.5 256v1M241.5 223v1M432.5 211v1M379.5 175v1M683.5 339v1M450.5 226v1M684.5 338v1M225.5 236v1M407.5 191v1M787.5 323v1M796.5 335v1M230.5 232v1M805.5 347v1M633.5 338v1M776.5 311v1M219.5 242v1M446.5 222v1M266.5 200v1M239.5 225v1M696.5 330v1M596.5 298v1M223.5 238v1M112.5 215v1M682.5 340v1M380.5 176v1M229.5 233v1M135.5 244v1M591.5 295v1M386.5 180v1M797.5 336v1M806.5 348v1M256.5 207v1M778.5 313v1M99.5 196v1M136.5 245v1M616.5 315v1M116.5 221v1M634.5 339v1M447.5 223v1M440.5 217v1M586.5 292v1M612.5 311v1M260.5 204v1M409.5 193v1M121.5 229v1M213.5 248v1M284.5 180v1M641.5 344v1M410.5 194v1M620.5 321v1M635.5 340v1M629.5 333v1M441.5 218v1M785.5 321v1M779.5 314v1M607.5 305v1M636.5 341v1M280.5 185v1M282.5 182v1M411.5 195v1" fill="none" stroke="#e6dc1e" stroke-width="1" shape-rendering="crispEdges"/>
<path d="M111 245.5h2M776 344.5h2M769 340.5h2M813 370.5h2M821 370.5h10M296 151.5h11M334 151.5h2M132 260.5h2M181 260.5h6M774 343.5h2M164 265.5h2M521 265.5h2M539 265.5h2M273 170.5h2M166 264.5h2M471 264.5h2M523 264.5h2M537 264.5h2M640 364.5h3M665 364.5h2M893 364.5h2M655 369.5h2M815 369.5h6M831 369.5h6M168 263.5h3M525 263.5h12M332 150.5h2M258 176.5h3M611 331.5h2M391 210.5h4M772 342.5h2M587 322.5h2M888 360.5h2M157 270.5h2M479 270.5h2M501 270.5h4M129 258.5h2M313 145.5h2M321 145.5h4M395 211.5h13M154 271.5h3M498 271.5h3M134 261.5h2M175 261.5h6M261 175.5h4M511 268.5h6M544 268.5h2M329 148.5h2M785 348.5h2M856 348.5h2M879 357.5h5M408 212.5h3M645 366.5h3M661 366.5h2M275 169.5h2M648 367.5h3M659 367.5h2M638 363.5h2M411 213.5h4M421 213.5h6M858 349.5h3M651 368.5h4M657 368.5h2M267 173.5h2M271 171.5h2M121 253.5h2M458 253.5h2M875 356.5h4M124 255.5h2M127 257.5h2M463 257.5h2M604 326.5h3M149 272.5h5M482 272.5h2M494 272.5h4M433 219.5h2M256 177.5h2M519 266.5h2M415 214.5h6M146 273.5h3M484 273.5h2M489 273.5h5M783 347.5h2M780 346.5h3M810 371.5h3M873 355.5h2M865 351.5h2M867 352.5h2M594 327.5h2M599 327.5h5M161 267.5h2M517 267.5h2M542 267.5h2M869 353.5h2M477 269.5h2M505 269.5h6M861 350.5h4M351 166.5h2M808 372.5h2M117 250.5h2M171 262.5h4M486 274.5h3M721 274.5h2M884 358.5h3M767 339.5h2M428 215.5h2M643 365.5h2M663 365.5h2M596 328.5h3M636 362.5h2M269 172.5h2M388 209.5h3M778 345.5h2M101 236.5h2M386 208.5h2M265 174.5h2M288 157.5h2M341 157.5h2M316 143.5h2M591 325.5h2M308 149.5h2M327 147.5h2M871 354.5h2M318 144.5h3M381 204.5h2M293 153.5h2M325 146.5h2M806 373.5h2M912.5 370v1M904.5 375v1M621.5 343v1M356.5 170v1M103.5 237v1M442.5 228v1M841.5 363v2M234.5 199v2M554.5 279v2M743.5 305v1M905.5 376v1M360.5 176v2M761.5 330v2M126.5 256v1M678.5 333v3M795.5 360v2M717.5 270v1M345.5 160v1M374.5 196v2M706.5 279v1M292.5 154v1M757.5 324v2M765.5 336v2M110.5 244v1M718.5 271v1M141.5 267v2M253.5 180v1M677.5 336v3M673.5 347v2M924.5 356v2M575.5 307v2M441.5 227v1M897.5 367v1M213.5 229v1M847.5 357v1M693.5 299v1M624.5 347v2M225.5 211v2M666.5 363v1M99.5 234v1M355.5 169v1M617.5 336v2M344.5 159v1M620.5 341v2M194.5 250v2M241.5 192v1M359.5 174v2M747.5 310v2M631.5 356v2M689.5 306v1M460.5 254v1M564.5 292v2M916.5 366v1M189.5 256v2M713.5 272v1M205.5 238v1M139.5 265v1M140.5 266v1M685.5 313v3M579.5 312v2M283.5 162v1M456.5 251v1M340.5 156v1M197.5 247v1M623.5 346v1M844.5 360v1M919.5 362v2M481.5 271v1M362.5 179v2M553.5 278v1M724.5 276v1M452.5 243v2M732.5 288v2M702.5 285v1M705.5 280v2M794.5 359v1M248.5 185v1M363.5 181v1M746.5 309v1M892.5 363v1M839.5 366v1M760.5 329v1M634.5 360v1M377.5 200v1M221.5 218v1M224.5 213v2M106.5 240v1M764.5 335v1M233.5 201v1M236.5 197v1M911.5 371v2M568.5 298v1M805.5 372v1M455.5 249v2M735.5 294v2M466.5 259v1M251.5 182v1M908.5 375v1M578.5 311v1M444.5 230v2M696.5 294v1M365.5 184v2M228.5 207v2M669.5 356v3M619.5 339v2M708.5 277v1M787.5 349v2M851.5 353v1M358.5 173v1M366.5 186v1M448.5 236v2M728.5 281v2M116.5 249v1M676.5 339v3M287.5 158v1M627.5 352v1M680.5 327v3M192.5 253v1M278.5 167v1M692.5 300v2M215.5 227v1M567.5 296v2M672.5 349v2M376.5 199v1M804.5 371v1M914.5 368v1M719.5 272v1M243.5 190v1M720.5 273v1M143.5 270v1M688.5 307v2M723.5 275v1M454.5 247v2M734.5 292v2M626.5 351v1M361.5 178v1M899.5 369v1M715.5 270v1M364.5 182v2M738.5 298v2M622.5 344v2M357.5 171v2M797.5 363v1M255.5 178v1M220.5 219v2M541.5 266v1M461.5 255v1M105.5 239v1M749.5 313v1M712.5 273v1M556.5 282v1M462.5 256v1M566.5 295v1M763.5 333v2M212.5 230v1M846.5 358v1M435.5 220v1M227.5 209v1M142.5 269v1M570.5 300v2M671.5 351v3M282.5 163v1M436.5 221v1M131.5 259v1M207.5 236v1M450.5 240v2M730.5 285v2M699.5 289v2M918.5 364v1M625.5 349v2M593.5 326v1M443.5 229v1M451.5 242v1M555.5 281v1M331.5 149v1M691.5 302v2M906.5 377v1M771.5 341v1M383.5 205v1M607.5 327v1M727.5 279v2M447.5 234v2M838.5 367v1M748.5 312v1M346.5 161v1M674.5 344v3M766.5 338v1M695.5 295v2M347.5 162v1M687.5 309v2M926.5 354v1M199.5 245v1M853.5 351v1M898.5 368v1M453.5 245v2M733.5 290v2M250.5 183v1M921.5 360v1M736.5 296v1M100.5 235v1M580.5 314v1M449.5 238v2M729.5 283v2M548.5 271v2M737.5 297v1M457.5 252v1M581.5 315v1M123.5 254v1M368.5 188v2M431.5 217v1M191.5 254v1M277.5 168v1M211.5 231v2M752.5 317v2M558.5 284v2M223.5 215v1M432.5 218v1M202.5 241v1M670.5 354v2M910.5 373v1M559.5 286v1M230.5 205v1M710.5 275v1M569.5 299v1M307.5 150v1M683.5 319v3M378.5 201v1M707.5 278v1M219.5 221v2M573.5 305v1M280.5 165v1M217.5 224v2M445.5 232v1M725.5 277v1M353.5 167v1M682.5 322v3M468.5 261v1M628.5 353v1M214.5 228v1M238.5 195v1M694.5 297v2M788.5 351v1M726.5 278v1M446.5 233v1M430.5 216v1M367.5 187v1M686.5 311v2M750.5 314v2M913.5 369v1M751.5 316v1M799.5 365v1M371.5 192v2M635.5 361v1M107.5 241v1M690.5 304v2M311.5 147v1M698.5 291v1M467.5 260v1M315.5 144v1M206.5 237v1M901.5 371v2M613.5 332v1M144.5 271v1M427.5 214v1M614.5 333v1M740.5 301v1M547.5 270v1M245.5 188v1M291.5 155v1M848.5 356v1M557.5 283v1M385.5 207v1M798.5 364v1M295.5 152v1M284.5 161v1M561.5 288v2M209.5 234v1M348.5 163v1M572.5 303v2M701.5 286v2M159.5 269v1M96.5 231v1M546.5 269v1M714.5 271v1M900.5 370v1M163.5 266v1M840.5 365v1M731.5 287v1M739.5 300v1M582.5 316v1M369.5 190v1M252.5 181v1M201.5 242v2M114.5 247v1M855.5 349v1M583.5 317v1M791.5 355v1M473.5 265v1M370.5 191v1M136.5 262v1M753.5 319v1M608.5 328v1M923.5 358v1M474.5 266v1M754.5 320v1M609.5 329v1M229.5 206v1M336.5 152v1M920.5 361v1M193.5 252v1M571.5 302v1M437.5 222v1M240.5 193v1M590.5 324v1M337.5 153v1M843.5 361v1M279.5 166v1M790.5 353v2M204.5 239v1M384.5 206v1M684.5 316v3M549.5 273v1M113.5 246v1M550.5 274v1M697.5 292v2M709.5 276v1M232.5 202v1M801.5 367v2M668.5 359v2M310.5 148v1M907.5 376v1M589.5 323v1M704.5 282v1M681.5 325v2M196.5 248v1M216.5 226v1M850.5 354v1M286.5 159v1M469.5 262v1M915.5 367v1M440.5 226v1M741.5 302v2M903.5 374v1M188.5 258v1M615.5 334v1M244.5 189v1M470.5 263v1M742.5 304v1M616.5 335v1M629.5 354v1M235.5 198v1M586.5 321v1M630.5 355v1M716.5 269v1M373.5 195v1M560.5 287v1M208.5 235v1M800.5 366v1M379.5 202v1M895.5 365v1M108.5 242v1M679.5 330v3M380.5 203v1M574.5 306v1M97.5 232v1M896.5 366v1M247.5 186v1M109.5 243v1M120.5 252v1M290.5 156v1M902.5 373v1M98.5 233v1M354.5 168v1M789.5 352v1M584.5 318v2M854.5 350v1M552.5 277v1M667.5 361v2M585.5 320v1M793.5 358v1M845.5 359v1M343.5 158v1M372.5 194v1M700.5 288v1M755.5 321v2M703.5 283v2M281.5 164v1M119.5 251v1M756.5 323v1M239.5 194v1M439.5 224v2M563.5 291v1M675.5 342v2M254.5 179v1M350.5 165v1M145.5 272v1M222.5 216v2M231.5 203v2M339.5 155v1M711.5 274v1M200.5 244v1M792.5 356v2M203.5 240v1M577.5 310v1M744.5 306v2M551.5 275v2M922.5 359v1M745.5 308v1M891.5 362v1M198.5 246v1M242.5 191v1M632.5 358v1M115.5 248v1M562.5 290v1M759.5 327v2M137.5 263v1M349.5 164v1M633.5 359v1M842.5 362v1M917.5 365v1M475.5 267v1M138.5 264v1M803.5 370v1M610.5 330v1M476.5 268v1M438.5 223v1M837.5 368v1M338.5 154v1M465.5 258v1M187.5 259v1M210.5 233v1M925.5 355v1M312.5 146v1M890.5 361v1M909.5 374v1M160.5 268v1M618.5 338v1M226.5 210v1M249.5 184v1M852.5 352v1M796.5 362v1M375.5 198v1M758.5 326v1M195.5 249v1M104.5 238v1M849.5 355v1M218.5 223v1M802.5 369v1M285.5 160v1M565.5 294v1M762.5 332v1M246.5 187v1M576.5 309v1M190.5 255v1M237.5 196v1M887.5 359v1" fill="none" stroke="#f4f4f4" stroke-width="1" shape-rendering="crispEdges"/>
<g shape-rendering="crispEdges">
<rect x="294" y="121" width="7" height="1" fill="#fff"/><rect x="296" y="119" width="1" height="4" fill="#fff"/>
<rect x="154" y="312" width="7" height="1" fill="#fff"/><rect x="156" y="311" width="1" height="3" fill="#fff"/>
<rect x="644" y="411" width="7" height="1" fill="#fff"/><rect x="646" y="410" width="1" height="3" fill="#fff"/>
<rect x="904" y="408" width="7" height="1" fill="#fff"/><rect x="906" y="407" width="1" height="3" fill="#fff"/>
</g>
<text x="302" y="118" fill="#f2334e" font-size="12" font-family="&quot;Liberation Sans&quot;,&quot;Noto Sans CJK SC&quot;,sans-serif" font-weight="bold" text-anchor="start" textLength="44" lengthAdjust="spacingAndGlyphs" >1807.72</text>
<text x="162" y="323.5" fill="#3cc882" font-size="12" font-family="&quot;Liberation Sans&quot;,&quot;Noto Sans CJK SC&quot;,sans-serif" font-weight="bold" text-anchor="start" textLength="44" lengthAdjust="spacingAndGlyphs" >1680.79</text>
<text x="652" y="423" fill="#3cc882" font-size="12" font-family="&quot;Liberation Sans&quot;,&quot;Noto Sans CJK SC&quot;,sans-serif" font-weight="bold" text-anchor="start" textLength="44" lengthAdjust="spacingAndGlyphs" >1614.67</text>
<text x="912" y="420.3" fill="#3cc882" font-size="12" font-family="&quot;Liberation Sans&quot;,&quot;Noto Sans CJK SC&quot;,sans-serif" font-weight="bold" text-anchor="start" textLength="43" lengthAdjust="spacingAndGlyphs" >1616.51</text>
<g shape-rendering="crispEdges">
<rect x="946" y="54" width="155" height="1" fill="#ee1111"/>
<rect x="946" y="232" width="155" height="1" fill="#ee1111"/>
<rect x="946" y="266" width="155" height="1" fill="#ee1111"/>
<rect x="946" y="301" width="155" height="1" fill="#ee1111"/>
<rect x="946" y="343" width="155" height="1" fill="#ee1111"/>
<rect x="646" y="409" width="300" height="1" fill="#ee1111"/>
<line x1="946" y1="122.5" x2="1100" y2="122.5" stroke="#ee1111" stroke-dasharray="3,3"/>
<line x1="946" y1="411.5" x2="1101" y2="411.5" stroke="#ee1111" stroke-dasharray="3,3"/>
</g>
<path d="M907.5 127v1M907.5 128v1M907.5 129v1M907.5 133v1M908.5 134v1M908.5 135v1M908.5 139v1M908.5 140v1M909.5 141v1M909.5 145v1M909.5 146v1M909.5 147v1M910.5 151v1M910.5 152v1M910.5 153v1M911.5 157v1M911.5 158v1M911.5 159v1M912.5 163v1M912.5 164v1M912.5 165v1M913.5 169v1M913.5 170v1M913.5 171v1M913.5 175v1M914.5 176v1M914.5 177v1M914.5 181v1M914.5 182v1M915.5 183v1M915.5 187v1M915.5 188v1M915.5 189v1M916.5 193v1M916.5 194v1M916.5 195v1M917.5 199v1M917.5 200v1M917.5 201v1M918.5 205v1M918.5 206v1M918.5 207v1M918.5 211v1M919.5 212v1M919.5 213v1M919.5 217v1M919.5 218v1M920.5 219v1M920.5 223v1M920.5 224v1M920.5 225v1M921.5 229v1M921.5 230v1M921.5 231v1M922.5 235v1M922.5 236v1M922.5 237v1M923.5 241v1M923.5 242v1M923.5 243v1M924.5 247v1M924.5 248v1M924.5 249v1M924.5 253v1M925.5 254v1M925.5 255v1M925.5 259v1M925.5 260v1M926.5 261v1M926.5 265v1M926.5 266v1M926.5 267v1M927.5 271v1M927.5 272v1M927.5 273v1M928.5 277v1M928.5 278v1M928.5 279v1M929.5 283v1M929.5 284v1M929.5 285v1M930.5 289v1M930.5 290v1M930.5 291v1M930.5 295v1M931.5 296v1M931.5 297v1M931.5 301v1M931.5 302v1M932.5 303v1M932.5 307v1M932.5 308v1M932.5 309v1M933.5 313v1M933.5 314v1M933.5 315v1M934.5 319v1M934.5 320v1M934.5 321v1M935.5 325v1M935.5 326v1M935.5 327v1M936.5 331v1M936.5 332v1M936.5 333v1M936.5 337v1M937.5 338v1M937.5 339v1M937.5 343v1M937.5 344v1M938.5 345v1M938.5 349v1M938.5 350v1M938.5 351v1M939.5 355v1M939.5 356v1M939.5 357v1M940.5 361v1M940.5 362v1M940.5 363v1M941.5 367v1M941.5 368v1M941.5 369v1M941.5 373v1M942.5 374v1M942.5 375v1M942.5 379v1M942.5 380v1M943.5 381v1M943.5 385v1M943.5 386v1M943.5 387v1M944.5 391v1M944.5 392v1M944.5 393v1M945.5 397v1M945.5 398v1M945.5 399v1M946.5 403v1M946.5 404v1M946.5 405v1" fill="none" stroke="#ee1111" stroke-width="1" shape-rendering="crispEdges"/>
<text x="1096" y="51" fill="#ee1111" font-size="12" font-family="&quot;Liberation Sans&quot;,&quot;Noto Sans CJK SC&quot;,sans-serif" font-weight="bold" text-anchor="end" textLength="84.5" lengthAdjust="spacingAndGlyphs" >1.236 \ 1852.03</text>
<text x="1096" y="229" fill="#ee1111" font-size="12" font-family="&quot;Liberation Sans&quot;,&quot;Noto Sans CJK SC&quot;,sans-serif" font-weight="bold" text-anchor="end" textLength="84.5" lengthAdjust="spacingAndGlyphs" >0.618 \ 1733.26</text>
<text x="1096" y="263" fill="#ee1111" font-size="12" font-family="&quot;Liberation Sans&quot;,&quot;Noto Sans CJK SC&quot;,sans-serif" font-weight="bold" text-anchor="end" textLength="84.5" lengthAdjust="spacingAndGlyphs" >0.500 \ 1710.58</text>
<text x="1096" y="298" fill="#ee1111" font-size="12" font-family="&quot;Liberation Sans&quot;,&quot;Noto Sans CJK SC&quot;,sans-serif" font-weight="bold" text-anchor="end" textLength="84.5" lengthAdjust="spacingAndGlyphs" >0.382 \ 1687.90</text>
<text x="1096" y="340" fill="#ee1111" font-size="12" font-family="&quot;Liberation Sans&quot;,&quot;Noto Sans CJK SC&quot;,sans-serif" font-weight="bold" text-anchor="end" textLength="84.5" lengthAdjust="spacingAndGlyphs" >0.236 \ 1659.84</text>
<ellipse cx="455.5" cy="11.5" rx="147.5" ry="15.5" fill="none" stroke="#e60f0f" stroke-width="2"/>
<ellipse cx="655" cy="12.5" rx="54" ry="12.5" fill="none" stroke="#e60f0f" stroke-width="2"/>
<ellipse cx="736" cy="306" rx="10.5" ry="8" fill="none" stroke="#e60f0f" stroke-width="2.2"/>
<rect x="735" y="305.5" width="70" height="3" fill="#e60f0f"/>
<rect x="901" y="373" width="35" height="3" fill="#e60f0f"/>
<ellipse cx="905" cy="534" rx="11.5" ry="16" fill="none" stroke="#e60f0f" stroke-width="2"/>
<circle cx="910" cy="662" r="13" fill="none" stroke="#e60f0f" stroke-width="2"/>
<g shape-rendering="crispEdges"><rect x="1102.5" y="354.5" width="68" height="16" fill="#000" stroke="#2a2a2a"/></g>
<text x="1104.5" y="367.3" fill="#e8a848" font-size="12" font-family="&quot;Liberation Sans&quot;,&quot;Noto Sans CJK SC&quot;,sans-serif" font-weight="normal" text-anchor="start" textLength="43.5" lengthAdjust="spacingAndGlyphs" >1652.36</text>
<g shape-rendering="crispEdges">
<rect x="96.0" y="508" width="1" height="31" fill="#3cc882"/>
<rect x="106.0" y="508" width="1" height="33" fill="#3cc882"/>
<rect x="116.0" y="508" width="1" height="31" fill="#3cc882"/>
<rect x="126.0" y="508" width="1" height="28" fill="#3cc882"/>
<rect x="136.0" y="508" width="1" height="22" fill="#3cc882"/>
<rect x="146.0" y="508" width="1" height="20" fill="#3cc882"/>
<rect x="156.0" y="508" width="1" height="11" fill="#3cc882"/>
<rect x="166.0" y="507" width="1" height="2" fill="#ee3350"/>
<rect x="176.0" y="503" width="1" height="6" fill="#ee3350"/>
<rect x="186.0" y="499" width="1" height="10" fill="#ee3350"/>
<rect x="196.0" y="491" width="1" height="18" fill="#ee3350"/>
<rect x="206.0" y="480" width="1" height="29" fill="#ee3350"/>
<rect x="216.0" y="471" width="1" height="38" fill="#ee3350"/>
<rect x="226.0" y="464" width="1" height="45" fill="#ee3350"/>
<rect x="236.0" y="464" width="1" height="45" fill="#ee3350"/>
<rect x="246.0" y="465" width="1" height="44" fill="#ee3350"/>
<rect x="256.0" y="461" width="1" height="48" fill="#ee3350"/>
<rect x="266.0" y="463" width="1" height="46" fill="#ee3350"/>
<rect x="276.0" y="463" width="1" height="46" fill="#ee3350"/>
<rect x="286.0" y="463" width="1" height="46" fill="#ee3350"/>
<rect x="296.0" y="466" width="1" height="43" fill="#ee3350"/>
<rect x="306.0" y="471" width="1" height="38" fill="#ee3350"/>
<rect x="316.0" y="472" width="1" height="37" fill="#ee3350"/>
<rect x="326.0" y="481" width="1" height="28" fill="#ee3350"/>
<rect x="336.0" y="489" width="1" height="20" fill="#ee3350"/>
<rect x="346.0" y="498" width="1" height="11" fill="#ee3350"/>
<rect x="356.0" y="507" width="1" height="2" fill="#ee3350"/>
<rect x="366.0" y="508" width="1" height="6" fill="#3cc882"/>
<rect x="376.0" y="508" width="1" height="13" fill="#3cc882"/>
<rect x="386.0" y="508" width="1" height="16" fill="#3cc882"/>
<rect x="396.0" y="508" width="1" height="15" fill="#3cc882"/>
<rect x="406.0" y="508" width="1" height="10" fill="#3cc882"/>
<rect x="416.0" y="508" width="1" height="14" fill="#3cc882"/>
<rect x="426.0" y="508" width="1" height="17" fill="#3cc882"/>
<rect x="436.0" y="508" width="1" height="20" fill="#3cc882"/>
<rect x="446.0" y="508" width="1" height="25" fill="#3cc882"/>
<rect x="456.0" y="508" width="1" height="29" fill="#3cc882"/>
<rect x="466.0" y="508" width="1" height="28" fill="#3cc882"/>
<rect x="476.0" y="508" width="1" height="25" fill="#3cc882"/>
<rect x="486.0" y="508" width="1" height="24" fill="#3cc882"/>
<rect x="496.0" y="508" width="1" height="16" fill="#3cc882"/>
<rect x="506.0" y="508" width="1" height="14" fill="#3cc882"/>
<rect x="516.0" y="508" width="1" height="9" fill="#3cc882"/>
<rect x="526.0" y="508" width="1" height="3" fill="#3cc882"/>
<rect x="536.0" y="508" width="1" height="3" fill="#3cc882"/>
<rect x="546.0" y="508" width="1" height="5" fill="#3cc882"/>
<rect x="556.0" y="508" width="1" height="14" fill="#3cc882"/>
<rect x="566.0" y="508" width="1" height="16" fill="#3cc882"/>
<rect x="576.0" y="508" width="1" height="16" fill="#3cc882"/>
<rect x="586.0" y="508" width="1" height="18" fill="#3cc882"/>
<rect x="596.0" y="508" width="1" height="14" fill="#3cc882"/>
<rect x="606.0" y="508" width="1" height="12" fill="#3cc882"/>
<rect x="616.0" y="508" width="1" height="15" fill="#3cc882"/>
<rect x="626.0" y="508" width="1" height="24" fill="#3cc882"/>
<rect x="636.0" y="508" width="1" height="25" fill="#3cc882"/>
<rect x="646.0" y="508" width="1" height="14" fill="#3cc882"/>
<rect x="656.0" y="508" width="1" height="5" fill="#3cc882"/>
<rect x="666.0" y="507" width="1" height="2" fill="#ee3350"/>
<rect x="676.0" y="491" width="1" height="18" fill="#ee3350"/>
<rect x="686.0" y="474" width="1" height="35" fill="#ee3350"/>
<rect x="696.0" y="467" width="1" height="42" fill="#ee3350"/>
<rect x="706.0" y="465" width="1" height="44" fill="#ee3350"/>
<rect x="716.0" y="471" width="1" height="38" fill="#ee3350"/>
<rect x="726.0" y="483" width="1" height="26" fill="#ee3350"/>
<rect x="736.0" y="492" width="1" height="17" fill="#ee3350"/>
<rect x="746.0" y="496" width="1" height="13" fill="#ee3350"/>
<rect x="756.0" y="501" width="1" height="8" fill="#ee3350"/>
<rect x="766.0" y="508" width="1" height="4" fill="#3cc882"/>
<rect x="776.0" y="508" width="1" height="7" fill="#3cc882"/>
<rect x="786.0" y="508" width="1" height="8" fill="#3cc882"/>
<rect x="796.0" y="508" width="1" height="14" fill="#3cc882"/>
<rect x="806.0" y="508" width="1" height="18" fill="#3cc882"/>
<rect x="816.0" y="508" width="1" height="10" fill="#3cc882"/>
<rect x="826.0" y="508" width="1" height="7" fill="#3cc882"/>
<rect x="836.0" y="508" width="1" height="3" fill="#3cc882"/>
<rect x="846.0" y="503" width="1" height="6" fill="#ee3350"/>
<rect x="856.0" y="499" width="1" height="10" fill="#ee3350"/>
<rect x="866.0" y="502" width="1" height="7" fill="#ee3350"/>
<rect x="876.0" y="507" width="1" height="2" fill="#ee3350"/>
<rect x="886.0" y="505" width="1" height="4" fill="#ee3350"/>
<rect x="896.0" y="507" width="1" height="2" fill="#ee3350"/>
<rect x="906.0" y="508" width="1" height="4" fill="#3cc882"/>
<rect x="916.0" y="497" width="1" height="12" fill="#ee3350"/>
<rect x="926.0" y="492" width="1" height="17" fill="#ee3350"/>
</g>
<path d="M472 541.5h4M506 541.5h12M547 541.5h2M801 541.5h4M809 541.5h5M200 561.5h2M620 561.5h2M654 561.5h2M235 531.5h2M445 531.5h3M769 531.5h5M854 531.5h17M231 533.5h2M450 533.5h3M779 533.5h5M845 533.5h4M891 533.5h10M182 571.5h3M116 581.5h4M151 581.5h3M425 522.5h3M701 522.5h2M731 522.5h4M923 522.5h2M257 516.5h2M385 516.5h23M662 558.5h3M233 532.5h2M448 532.5h2M688 532.5h2M774 532.5h5M849 532.5h5M871 532.5h20M908 532.5h2M237 530.5h2M443 530.5h2M765 530.5h4M124 583.5h24M295 498.5h3M346 498.5h3M282 504.5h2M361 504.5h2M193 566.5h2M631 566.5h4M638 566.5h3M243 527.5h2M436 527.5h3M759 527.5h2M428 523.5h2M735 523.5h14M921 523.5h2M554 545.5h2M465 539.5h3M521 539.5h4M531 539.5h10M795 539.5h3M819 539.5h5M101 576.5h2M165 576.5h3M265 512.5h2M377 512.5h2M311 493.5h4M321 493.5h10M273 508.5h2M369 508.5h2M480 543.5h4M489 543.5h5M556 546.5h2M227 535.5h2M455 535.5h3M787 535.5h2M840 535.5h3M411 518.5h4M709 518.5h5M718 518.5h3M558 547.5h4M584 553.5h23M120 582.5h4M148 582.5h3M280 505.5h2M363 505.5h2M476 542.5h4M494 542.5h12M549 542.5h2M805 542.5h4M96 574.5h2M172 574.5h3M269 510.5h2M373 510.5h2M251 521.5h2M421 521.5h4M728 521.5h3M925 521.5h2M278 506.5h2M365 506.5h2M293 499.5h2M349 499.5h3M286 502.5h3M357 502.5h2M301 496.5h4M341 496.5h3M468 540.5h4M518 540.5h3M541 540.5h6M798 540.5h3M814 540.5h5M484 544.5h5M552 544.5h2M241 528.5h2M439 528.5h2M693 528.5h2M761 528.5h2M913 528.5h2M579 552.5h5M308 494.5h3M331 494.5h7M562 548.5h4M291 500.5h2M352 500.5h3M259 515.5h2M383 515.5h2M267 511.5h2M375 511.5h2M611 556.5h2M458 536.5h2M789 536.5h2M838 536.5h2M408 517.5h3M714 517.5h4M239 529.5h2M441 529.5h2M763 529.5h2M432 525.5h2M697 525.5h2M754 525.5h3M917 525.5h2M195 565.5h2M628 565.5h3M641 565.5h4M460 537.5h3M791 537.5h2M831 537.5h7M622 562.5h2M651 562.5h3M315 492.5h6M418 520.5h3M704 520.5h2M725 520.5h3M98 575.5h3M168 575.5h4M263 513.5h2M379 513.5h2M271 509.5h2M371 509.5h2M463 538.5h2M525 538.5h6M793 538.5h2M824 538.5h7M289 501.5h2M355 501.5h2M618 560.5h2M656 560.5h3M624 563.5h2M648 563.5h3M430 524.5h2M749 524.5h5M919 524.5h2M275 507.5h3M367 507.5h2M103 577.5h3M162 577.5h3M178 572.5h4M109 579.5h3M156 579.5h3M298 497.5h3M344 497.5h2M245 526.5h2M434 526.5h2M757 526.5h2M106 578.5h3M159 578.5h3M415 519.5h3M706 519.5h3M721 519.5h4M613 557.5h2M665 557.5h2M284 503.5h2M359 503.5h2M626 564.5h2M645 564.5h3M229 534.5h2M453 534.5h2M784 534.5h3M843 534.5h2M901 534.5h6M305 495.5h3M338 495.5h3M616 559.5h2M659 559.5h3M609 555.5h2M191 567.5h2M635 567.5h3M175 573.5h3M261 514.5h2M381 514.5h2M112 580.5h4M154 580.5h2M566 549.5h4M570 550.5h4M187 569.5h2M574 551.5h5M208 554.5h2M607 554.5h2M189 568.5h2M185 570.5h2M683.5 538v1M684.5 536v2M221.5 541v1M686.5 534v1M670.5 553v1M256.5 517v1M690.5 531v1M210.5 553v1M691.5 530v1M669.5 554v1M199.5 562v1M695.5 527v1M249.5 523v1M696.5 526v1M250.5 522v1M682.5 539v1M916.5 526v1M204.5 558v1M685.5 535v1M220.5 542v2M700.5 523v1M254.5 519v1M911.5 530v1M255.5 518v1M671.5 551v2M672.5 550v1M910.5 531v1M197.5 564v1M915.5 527v1M216.5 547v1M217.5 546v1M198.5 563v1M678.5 544v1M679.5 542v2M248.5 524v1M681.5 540v1M202.5 560v1M699.5 524v1M203.5 559v1M226.5 536v1M615.5 558v1M253.5 520v1M668.5 555v1M214.5 549v1M215.5 548v1M680.5 541v1M247.5 525v1M205.5 557v1M551.5 543v1M667.5 556v1M225.5 537v1M703.5 521v1M676.5 546v1M677.5 545v1M673.5 549v1M224.5 538v1M223.5 539v1M207.5 555v1M213.5 550v1M675.5 547v1M212.5 551v1M222.5 540v1M219.5 544v1M206.5 556v1M687.5 533v1M907.5 533v1M211.5 552v1M674.5 548v1M692.5 529v1M912.5 529v1M218.5 545v1" fill="none" stroke="#f4f4f4" stroke-width="1" shape-rendering="crispEdges"/>
<path d="M271 533.5h2M494 533.5h5M725 533.5h3M794 533.5h7M861 533.5h50M596 547.5h7M693 547.5h2M249 545.5h2M584 545.5h6M697 545.5h2M118 568.5h3M203 568.5h2M328 507.5h3M381 507.5h9M273 532.5h2M489 532.5h5M728 532.5h3M789 532.5h5M911 532.5h10M261 538.5h2M536 538.5h14M711 538.5h2M259 539.5h2M550 539.5h6M709 539.5h2M300 518.5h2M438 518.5h3M140 574.5h6M179 574.5h5M313 512.5h2M414 512.5h5M331 506.5h4M373 506.5h8M257 540.5h2M556 540.5h7M707 540.5h2M225 558.5h2M656 558.5h13M267 535.5h2M504 535.5h7M718 535.5h3M809 535.5h5M841 535.5h10M153 576.5h13M306 515.5h3M428 515.5h3M275 531.5h2M484 531.5h5M731 531.5h4M784 531.5h5M921 531.5h6M135 573.5h5M184 573.5h5M321 509.5h4M396 509.5h7M341 504.5h10M360 504.5h6M315 511.5h3M409 511.5h5M265 536.5h2M511 536.5h10M715 536.5h3M814 536.5h27M277 530.5h2M480 530.5h4M735 530.5h6M779 530.5h5M110 565.5h3M210 565.5h3M115 567.5h3M205 567.5h3M269 534.5h2M499 534.5h5M721 534.5h4M801 534.5h8M851 534.5h10M229 556.5h2M636 556.5h7M674 556.5h3M279 529.5h2M476 529.5h4M741 529.5h10M761 529.5h18M292 522.5h2M451 522.5h4M288 524.5h2M458 524.5h3M146 575.5h7M166 575.5h13M283 527.5h2M468 527.5h4M237 552.5h2M618 552.5h3M683 552.5h2M351 503.5h9M242 549.5h2M608 549.5h3M689 549.5h2M298 519.5h2M441 519.5h4M125 570.5h3M198 570.5h2M335 505.5h6M366 505.5h7M286 525.5h2M461 525.5h4M98 560.5h2M221 560.5h2M121 569.5h4M200 569.5h3M318 510.5h3M403 510.5h6M239 551.5h2M615 551.5h3M685 551.5h2M254 542.5h2M569 542.5h5M703 542.5h2M579 544.5h5M699 544.5h2M281 528.5h2M472 528.5h4M751 528.5h10M611 550.5h4M687 550.5h2M128 571.5h3M194 571.5h4M302 517.5h2M435 517.5h3M131 572.5h4M189 572.5h5M227 557.5h2M643 557.5h13M669 557.5h5M263 537.5h2M521 537.5h15M713 537.5h2M252 543.5h2M574 543.5h5M701 543.5h2M465 526.5h3M233 554.5h2M625 554.5h5M679 554.5h2M294 521.5h2M448 521.5h3M311 513.5h2M419 513.5h5M103 562.5h2M217 562.5h2M563 541.5h6M705 541.5h2M325 508.5h3M390 508.5h6M235 553.5h2M621 553.5h4M681 553.5h2M309 514.5h2M424 514.5h4M244 548.5h2M603 548.5h5M691 548.5h2M296 520.5h2M445 520.5h3M231 555.5h2M630 555.5h6M677 555.5h2M100 561.5h3M219 561.5h2M108 564.5h2M213 564.5h2M304 516.5h2M431 516.5h4M96 559.5h2M223 559.5h2M290 523.5h2M455 523.5h3M247 546.5h2M590 546.5h6M695 546.5h2M113 566.5h2M208 566.5h2M105 563.5h3M215 563.5h2M251.5 544v1M285.5 526v1M241.5 550v1M256.5 541v1M246.5 547v1" fill="none" stroke="#e6dc1e" stroke-width="1" shape-rendering="crispEdges"/>
<text x="92.5" y="451.5" fill="#e8e8e8" font-size="12" font-family="&quot;Liberation Sans&quot;,&quot;Noto Sans CJK SC&quot;,sans-serif" font-weight="normal" text-anchor="start" textLength="85" lengthAdjust="spacingAndGlyphs" >MACD(26,12,9)</text>
<text x="182.5" y="451.5" fill="#e8e8e8" font-size="12" font-family="&quot;Liberation Sans&quot;,&quot;Noto Sans CJK SC&quot;,sans-serif" font-weight="normal" text-anchor="start" textLength="56" lengthAdjust="spacingAndGlyphs" >DIFF:-5.92</text>
<text x="248.3" y="451.5" fill="#c8c814" font-size="12" font-family="&quot;Liberation Sans&quot;,&quot;Noto Sans CJK SC&quot;,sans-serif" font-weight="normal" text-anchor="start" textLength="54.5" lengthAdjust="spacingAndGlyphs" >DEA:-9.76</text>
<text x="311.7" y="451.5" fill="#c81ec8" font-size="12" font-family="&quot;Liberation Sans&quot;,&quot;Noto Sans CJK SC&quot;,sans-serif" font-weight="normal" text-anchor="start" textLength="63.5" lengthAdjust="spacingAndGlyphs" >MACD:7.68</text>
<path d="M169 662.5h2M533 662.5h2M663 662.5h2M892 662.5h2M852 650.5h2M859 650.5h2M921 650.5h2M223 630.5h2M228 630.5h3M281 630.5h7M541 668.5h2M653 668.5h2M751 668.5h2M829 668.5h2M903 668.5h2M363 681.5h2M388 681.5h3M433 681.5h2M469 681.5h5M481 681.5h6M608 681.5h2M779 681.5h5M201 642.5h2M721 642.5h2M357 678.5h2M397 678.5h2M427 678.5h2M491 678.5h2M556 678.5h15M578 678.5h3M770 678.5h3M101 687.5h8M124 687.5h4M623 687.5h2M798 687.5h3M215 633.5h3M238 633.5h3M251 633.5h4M259 633.5h5M268 633.5h3M295 633.5h2M209 636.5h2M301 636.5h2M314 636.5h3M693 636.5h2M711 636.5h4M657 665.5h2M835 665.5h2M897 665.5h2M513 670.5h2M755 670.5h2M405 674.5h3M504 674.5h3M549 674.5h2M762 674.5h2M819 674.5h2M178 658.5h3M885 658.5h2M114 689.5h5M805 689.5h2M213 634.5h2M241 634.5h4M248 634.5h3M264 634.5h4M297 634.5h2M701 634.5h7M515 669.5h2M753 669.5h2M827 669.5h2M905 669.5h2M509 672.5h2M648 672.5h2M759 672.5h2M822 672.5h2M686 639.5h2M181 657.5h4M401 676.5h2M411 676.5h4M495 676.5h4M552 676.5h2M766 676.5h2M185 656.5h2M348 671.5h2M511 671.5h2M757 671.5h2M824 671.5h2M369 683.5h5M379 683.5h5M438 683.5h2M463 683.5h2M613 683.5h2M788 683.5h2M359 679.5h2M395 679.5h2M429 679.5h2M489 679.5h2M581 679.5h4M591 679.5h10M773 679.5h2M131 685.5h4M139 685.5h5M443 685.5h2M458 685.5h2M618 685.5h2M793 685.5h2M365 682.5h4M384 682.5h4M435 682.5h3M465 682.5h4M610 682.5h3M784 682.5h4M854 649.5h2M857 649.5h2M849 652.5h2M863 652.5h2M361 680.5h2M391 680.5h4M431 680.5h2M474 680.5h7M487 680.5h2M585 680.5h6M601 680.5h7M775 680.5h4M353 675.5h2M403 675.5h2M408 675.5h3M499 675.5h5M764 675.5h2M817 675.5h2M847 653.5h2M865 653.5h2M109 688.5h5M119 688.5h5M625 688.5h12M801 688.5h4M173 660.5h2M529 660.5h2M878 660.5h3M889 660.5h2M96 686.5h5M128 686.5h3M144 686.5h3M445 686.5h13M620 686.5h3M795 686.5h3M399 677.5h2M415 677.5h12M493 677.5h2M554 677.5h2M571 677.5h7M768 677.5h2M220 631.5h3M231 631.5h4M275 631.5h6M288 631.5h3M211 635.5h2M245 635.5h3M299 635.5h2M695 635.5h6M708 635.5h3M175 659.5h3M527 659.5h2M738 659.5h2M873 659.5h2M881 659.5h4M887 659.5h2M868 655.5h2M747 666.5h2M833 666.5h2M899 666.5h2M191 651.5h2M861 651.5h2M681 643.5h2M167 663.5h2M535 663.5h2M661 663.5h2M743 663.5h2M894 663.5h2M749 667.5h2M831 667.5h2M901 667.5h2M305 638.5h4M688 638.5h2M135 684.5h4M374 684.5h5M440 684.5h3M460 684.5h3M615 684.5h3M790 684.5h3M225 629.5h3M207 637.5h2M303 637.5h2M309 637.5h5M690 637.5h3M715 637.5h2M659 664.5h2M171 661.5h2M531 661.5h2M665 661.5h2M876 661.5h2M218 632.5h2M235 632.5h3M255 632.5h4M271 632.5h4M291 632.5h4M507 673.5h2M547 673.5h2M912.5 660v2M911.5 662v1M730.5 650v1M325.5 647v1M335.5 657v1M319.5 639v2M345.5 668v1M200.5 643v1M204.5 640v1M726.5 646v1M162.5 668v1M671.5 654v2M637.5 686v2M673.5 652v1M674.5 650v2M163.5 667v1M537.5 664v1M341.5 663v2M320.5 641v1M647.5 673v1M652.5 669v1M346.5 669v1M844.5 656v1M199.5 644v1M340.5 662v1M159.5 672v1M161.5 669v2M205.5 639v1M538.5 665v1M669.5 657v1M816.5 676v1M670.5 656v1M870.5 656v1M668.5 658v2M342.5 665v1M643.5 678v1M645.5 675v2M731.5 651v2M336.5 658v1M650.5 671v1M651.5 670v1M842.5 658v1M741.5 661v1M843.5 657v1M326.5 648v1M157.5 674v1M203.5 641v1M158.5 673v1M727.5 647v1M720.5 641v1M197.5 646v1M332.5 654v1M919.5 652v1M839.5 662v1M841.5 659v2M522.5 662v1M156.5 675v1M907.5 667v2M190.5 652v1M539.5 666v1M196.5 647v1M871.5 657v1M915.5 656v2M680.5 644v1M343.5 666v1M917.5 654v1M540.5 667v1M814.5 678v2M923.5 649v1M837.5 664v1M323.5 644v1M189.5 653v1M194.5 649v1M333.5 655v1M872.5 658v1M913.5 659v1M826.5 670v1M678.5 646v1M338.5 660v1M684.5 641v1M339.5 661v1M356.5 677v1M334.5 656v1M153.5 678v1M740.5 660v1M718.5 639v1M330.5 652v1M324.5 645v2M149.5 683v1M151.5 680v2M761.5 673v1M639.5 684v1M641.5 681v1M147.5 685v1M808.5 686v2M321.5 642v1M856.5 648v1M672.5 653v1M347.5 670v1M656.5 666v1M655.5 667v1M807.5 688v1M742.5 662v1M337.5 659v1M851.5 651v1M195.5 648v1M155.5 676v1M322.5 643v1M909.5 665v1M685.5 640v1M193.5 650v1M352.5 674v1M154.5 677v1M544.5 670v1M683.5 642v1M736.5 657v1M355.5 676v1M188.5 654v1M317.5 637v1M150.5 682v1M152.5 679v1M732.5 653v1M160.5 671v1M187.5 655v1M821.5 673v1M676.5 648v1M642.5 679v2M644.5 677v1M677.5 647v1M148.5 684v1M733.5 654v1M525.5 659v1M811.5 682v2M638.5 685v1M640.5 682v2M675.5 649v1M521.5 663v2M523.5 661v1M867.5 654v1M350.5 672v1M519.5 666v1M520.5 665v1M734.5 655v1M166.5 664v1M910.5 663v2M809.5 685v1M724.5 644v1M875.5 660v1M164.5 666v1M908.5 666v1M165.5 665v1M725.5 645v1M846.5 654v1M206.5 638v1M845.5 655v1M526.5 658v1M545.5 671v1M737.5 658v1M318.5 638v1M891.5 661v1M551.5 675v1M920.5 651v1M719.5 640v1M331.5 653v1M926.5 646v1M524.5 660v1M925.5 647v1M546.5 672v1M646.5 674v1M198.5 645v1M327.5 649v1M667.5 660v1M813.5 680v1M815.5 677v1M924.5 648v1M745.5 664v1M728.5 648v1M723.5 643v1M840.5 661v1M328.5 650v1M810.5 684v1M812.5 681v1M918.5 653v1M838.5 663v1M351.5 673v1M344.5 667v1M543.5 669v1M735.5 656v1M914.5 658v1M729.5 649v1M746.5 665v1M916.5 655v1M517.5 668v1M679.5 645v1M518.5 667v1M717.5 638v1M329.5 651v1M896.5 664v1" fill="none" stroke="#f4f4f4" stroke-width="1" shape-rendering="crispEdges"/>
<path d="M155 681.5h2M445 681.5h6M489 681.5h5M614 681.5h5M643 681.5h2M803 681.5h2M808 681.5h3M162 677.5h2M394 677.5h7M421 677.5h10M508 677.5h2M584 677.5h7M653 677.5h2M793 677.5h2M821 677.5h4M384 675.5h5M513 675.5h2M574 675.5h5M657 675.5h2M789 675.5h2M828 675.5h3M173 671.5h2M370 671.5h3M523 671.5h2M553 671.5h2M665 671.5h2M780 671.5h3M181 667.5h2M362 667.5h2M535 667.5h6M770 667.5h3M844 667.5h2M254 635.5h17M311 635.5h7M192 661.5h2M678 661.5h2M854 661.5h2M898 661.5h3M910 661.5h3M157 680.5h2M441 680.5h4M494 680.5h5M609 680.5h5M645 680.5h3M800 680.5h3M811 680.5h4M214 647.5h2M698 647.5h2M733 647.5h2M96 687.5h15M121 687.5h10M164 676.5h2M389 676.5h5M401 676.5h20M510 676.5h3M579 676.5h5M655 676.5h2M791 676.5h2M825 676.5h3M683 657.5h2M753 657.5h2M920 657.5h3M159 679.5h2M438 679.5h3M499 679.5h5M601 679.5h8M648 679.5h2M798 679.5h2M815 679.5h3M171 672.5h2M373 672.5h2M520 672.5h3M555 672.5h6M663 672.5h2M783 672.5h2M837 672.5h2M351 659.5h2M757 659.5h2M859 659.5h5M889 659.5h5M915 659.5h3M153 682.5h2M451 682.5h38M619 682.5h5M641 682.5h2M805 682.5h3M179 668.5h2M364 668.5h2M531 668.5h4M541 668.5h7M773 668.5h2M149 684.5h2M629 684.5h5M637 684.5h2M761 662.5h2M852 662.5h2M901 662.5h4M908 662.5h2M431 678.5h7M504 678.5h4M591 678.5h10M650 678.5h3M795 678.5h3M818 678.5h3M167 674.5h2M379 674.5h5M515 674.5h3M569 674.5h5M659 674.5h2M787 674.5h2M831 674.5h4M229 639.5h5M327 639.5h2M222 642.5h2M332 642.5h2M714 642.5h5M271 634.5h8M304 634.5h7M279 633.5h5M299 633.5h5M197 658.5h2M755 658.5h2M864 658.5h25M918 658.5h2M185 665.5h2M359 665.5h2M673 665.5h2M766 665.5h2M847 665.5h2M209 650.5h2M739 650.5h2M169 673.5h2M375 673.5h4M518 673.5h2M561 673.5h8M661 673.5h2M785 673.5h2M835 673.5h2M131 686.5h16M201 655.5h2M749 655.5h2M925 655.5h2M217 645.5h2M703 645.5h2M728 645.5h2M187 664.5h2M357 664.5h2M764 664.5h2M849 664.5h2M175 670.5h2M368 670.5h2M525 670.5h3M550 670.5h3M778 670.5h2M189 663.5h2M905 663.5h3M111 688.5h10M284 632.5h15M226 640.5h3M329 640.5h2M700 646.5h3M730 646.5h3M241 637.5h8M321 637.5h4M694 649.5h2M737 649.5h2M234 638.5h7M325 638.5h2M249 636.5h5M318 636.5h3M177 669.5h2M366 669.5h2M528 669.5h3M548 669.5h2M668 669.5h2M775 669.5h3M841 669.5h2M204 653.5h2M745 653.5h2M183 666.5h2M768 666.5h2M334 643.5h2M709 643.5h5M719 643.5h5M743 652.5h2M219 644.5h2M705 644.5h4M724 644.5h4M194 660.5h2M856 660.5h3M894 660.5h4M913 660.5h2M751 656.5h2M923 656.5h2M212 648.5h2M696 648.5h2M735 648.5h2M687 654.5h2M747 654.5h2M151 683.5h2M624 683.5h5M639 683.5h2M207 651.5h2M691 651.5h2M741 651.5h2M147 685.5h2M634 685.5h3M224 641.5h2M345.5 653v1M336.5 644v1M353.5 660v1M846.5 666v1M191.5 662v1M350.5 658v1M166.5 675v1M211.5 649v1M341.5 649v1M667.5 670v1M682.5 658v1M203.5 654v1M671.5 667v1M354.5 661v1M337.5 645v1M672.5 666v1M677.5 662v1M346.5 654v1M331.5 641v1M342.5 650v1M676.5 663v1M681.5 659v1M161.5 678v1M686.5 655v1M361.5 666v1M347.5 655v1M670.5 668v1M675.5 664v1M206.5 652v1M690.5 652v1M680.5 660v1M338.5 646v1M355.5 662v1M759.5 660v1M685.5 656v1M339.5 647v1M840.5 670v1M356.5 663v1M221.5 643v1M348.5 656v1M839.5 671v1M343.5 651v1M344.5 652v1M763.5 663v1M689.5 653v1M349.5 657v1M196.5 659v1M851.5 663v1M843.5 668v1M200.5 656v1M760.5 661v1M216.5 646v1M340.5 648v1M693.5 650v1M199.5 657v1" fill="none" stroke="#e6dc1e" stroke-width="1" shape-rendering="crispEdges"/>
<path d="M766 702.5h12M805 702.5h2M785 699.5h2M108 688.5h3M120 688.5h3M560 688.5h3M754 688.5h3M115 690.5h3M438 690.5h2M556 690.5h2M878 661.5h2M269 630.5h2M105 687.5h3M123 687.5h2M563 687.5h2M584 687.5h2M587 687.5h2M749 687.5h5M831 654.5h2M275 627.5h4M179 637.5h5M364 710.5h4M705 615.5h2M473 679.5h2M478 679.5h3M905 679.5h2M626 698.5h2M308 642.5h2M661 642.5h2M413 676.5h2M211 608.5h4M688 608.5h3M134 680.5h2M137 680.5h2M470 680.5h3M481 680.5h4M273 628.5h2M849 628.5h2M351 704.5h2M794 704.5h2M798 704.5h3M781 700.5h4M787 700.5h2M166 639.5h5M251 629.5h2M261 629.5h2M271 629.5h2M847 629.5h2M264 631.5h2M267 631.5h2M421 677.5h6M208 609.5h3M683 609.5h2M691 609.5h4M131 682.5h2M466 682.5h2M575 682.5h2M601 682.5h6M356 708.5h3M371 708.5h4M257 626.5h2M279 626.5h5M852 626.5h2M827 657.5h2M443 694.5h2M454 694.5h3M619 694.5h2M796 705.5h2M142 683.5h2M573 683.5h2M577 683.5h2M595 683.5h6M504 666.5h3M449 695.5h5M635 695.5h2M885 658.5h2M301 640.5h2M139 681.5h2M468 681.5h2M485 681.5h2M171 638.5h8M313 638.5h2M883 659.5h2M697 611.5h2M703 614.5h2M215 607.5h12M686 607.5h2M206 610.5h2M695 610.5h2M184 636.5h3M876 662.5h2M778 701.5h3M789 701.5h2M499 667.5h5M446 696.5h3M622 696.5h2M631 696.5h4M699 612.5h2M111 689.5h4M118 689.5h2M558 689.5h2M416 678.5h5M475 678.5h3M98 685.5h3M127 685.5h2M568 685.5h2M591 685.5h2M880 660.5h3M284 625.5h3M854 625.5h2M101 686.5h4M125 686.5h2M565 686.5h3M582 686.5h2M589 686.5h2M746 686.5h3M834 652.5h2M375 707.5h2M617 693.5h2M496 668.5h3M792 703.5h2M801 703.5h4M359 709.5h5M368 709.5h3M624 697.5h2M628 697.5h3M96 684.5h2M144 684.5h3M570 684.5h3M579 684.5h2M593 684.5h2M408 672.5h2M678 613.5h2M701 613.5h2M349.5 702v1M382.5 699v1M867.5 645v2M326.5 655v3M436.5 688v1M459.5 690v2M543.5 671v2M889.5 661v2M323.5 649v2M669.5 630v3M159.5 653v2M807.5 698v3M638.5 687v4M202.5 615v1M136.5 679v1M319.5 641v2M916.5 639v3M726.5 646v3M517.5 653v2M642.5 674v3M148.5 679v3M654.5 650v1M729.5 653v3M289.5 628v1M320.5 643v2M312.5 639v1M333.5 671v2M614.5 690v1M187.5 634v2M923.5 631v1M907.5 674v4M489.5 677v1M155.5 661v2M899.5 673v1M290.5 629v1M743.5 681v2M535.5 653v2M428.5 679v1M199.5 618v2M840.5 642v2M263.5 630v1M255.5 626v1M637.5 691v3M900.5 674v1M873.5 656v2M429.5 680v1M344.5 694v2M378.5 704v2M912.5 654v4M641.5 677v4M733.5 663v2M870.5 651v2M673.5 621v3M147.5 682v2M163.5 645v2M528.5 639v2M718.5 630v2M808.5 694v4M549.5 681v2M340.5 686v2M151.5 671v3M322.5 647v2M844.5 634v2M509.5 663v1M866.5 643v2M812.5 681v3M660.5 643v1M542.5 669v2M341.5 688v2M911.5 658v4M648.5 659v1M657.5 646v1M205.5 611v1M288.5 627v1M892.5 665v1M190.5 630v2M316.5 636v1M915.5 642v4M765.5 700v2M739.5 675v2M531.5 645v2M668.5 633v2M330.5 664v2M381.5 700v2M532.5 647v2M239.5 626v1M397.5 682v1M869.5 649v2M295.5 634v1M523.5 641v2M158.5 655v2M711.5 621v1M512.5 659v1M240.5 627v1M394.5 685v1M732.5 661v2M839.5 644v2M296.5 635v1M636.5 694v1M717.5 628v2M891.5 664v1M246.5 634v1M816.5 669v2M664.5 640v1M412.5 675v1M640.5 681v3M337.5 680v2M150.5 674v2M644.5 667v4M488.5 678v2M154.5 663v3M728.5 651v2M259.5 627v1M811.5 684v4M672.5 624v2M910.5 662v4M355.5 707v1M815.5 671v3M458.5 692v1M461.5 688v1M400.5 678v1M442.5 693v1M735.5 668v2M872.5 654v2M725.5 644v2M843.5 636v2M431.5 682v2M329.5 662v2M710.5 620v1M527.5 637v2M814.5 674v4M339.5 684v2M343.5 692v2M906.5 678v1M906.5 680v1M791.5 702v1M552.5 685v1M819.5 666v1M914.5 646v4M354.5 706v1M336.5 677v3M553.5 686v1M851.5 627v1M318.5 639v2M389.5 691v1M609.5 685v1M757.5 689v2M667.5 635v2M538.5 660v2M162.5 647v2M250.5 630v1M193.5 626v1M621.5 695v1M895.5 669v1M919.5 636v1M405.5 671v1M384.5 696v2M511.5 660v2M303.5 641v1M838.5 646v2M639.5 684v3M616.5 692v1M724.5 642v2M518.5 651v2M204.5 612v2M149.5 676v3M530.5 643v2M810.5 688v3M833.5 653v1M822.5 662v1M551.5 684v1M865.5 641v2M350.5 703v1M731.5 658v3M392.5 687v1M321.5 645v2M909.5 666v4M166.5 640v1M541.5 666v3M201.5 616v1M922.5 632v1M651.5 654v2M317.5 637v2M491.5 674v2M157.5 657v2M494.5 670v2M809.5 691v3M537.5 658v2M254.5 627v1M727.5 649v2M464.5 684v2M196.5 622v1M227.5 608v2M745.5 684v2M328.5 660v2M643.5 671v3M709.5 618v2M291.5 630v1M331.5 666v3M141.5 682v1M241.5 628v2M647.5 660v2M342.5 690v2M659.5 644v1M430.5 681v1M868.5 647v2M242.5 630v1M437.5 689v1M671.5 626v2M734.5 665v3M526.5 635v2M338.5 682v2M663.5 641v1M864.5 639v2M161.5 649v2M298.5 637v1M861.5 633v2M894.5 667v2M487.5 680v1M842.5 638v2M540.5 664v2M260.5 628v1M813.5 678v3M522.5 643v2M514.5 657v1M396.5 683v1M231.5 615v1M901.5 675v1M821.5 663v2M327.5 658v2M391.5 688v2M529.5 641v2M666.5 637v2M521.5 645v2M712.5 622v1M720.5 634v2M921.5 633v2M490.5 676v1M156.5 659v2M908.5 670v4M554.5 687v2M837.5 648v2M192.5 627v2M539.5 662v2M555.5 689v1M893.5 666v1M536.5 655v3M913.5 650v4M335.5 675v2M399.5 679v1M402.5 675v1M611.5 687v1M129.5 684v1M380.5 702v1M646.5 662v2M383.5 698v1M824.5 660v1M230.5 613v2M612.5 688v1M133.5 681v1M670.5 628v2M525.5 637v2M723.5 640v2M203.5 614v1M160.5 651v2M650.5 656v1M924.5 630v1M297.5 636v1M653.5 651v2M841.5 640v2M863.5 637v2M433.5 685v1M256.5 625v1M463.5 686v1M719.5 632v2M195.5 623v2M198.5 620v1M730.5 656v2M860.5 631v2M386.5 694v1M610.5 686v1M677.5 614v1M665.5 639v1M520.5 647v2M229.5 611v2M432.5 684v1M737.5 672v2M722.5 638v2M645.5 664v3M293.5 632v1M836.5 650v2M243.5 631v1M493.5 672v1M307.5 643v1M516.5 655v1M715.5 626v1M398.5 680v2M862.5 635v2M244.5 632v1M410.5 673v1M758.5 691v1M896.5 670v1M859.5 629v2M146.5 685v1M759.5 692v1M164.5 643v2M681.5 611v1M762.5 696v2M334.5 673v2M232.5 616v2M649.5 657v2M304.5 642v1M685.5 608v1M233.5 618v1M236.5 623v1M390.5 690v1M736.5 670v2M546.5 677v2M903.5 677v1M311.5 640v1M189.5 632v1M315.5 637v1M524.5 639v2M607.5 683v1M377.5 706v1M235.5 621v2M300.5 639v1M247.5 633v1M820.5 665v1M228.5 610v1M508.5 664v1M292.5 631v1M721.5 636v2M902.5 676v1M740.5 677v1M714.5 624v2M545.5 675v2M462.5 687v1M401.5 676v2M266.5 632v1M404.5 672v2M656.5 647v1M676.5 615v2M299.5 638v1M519.5 649v2M826.5 658v1M435.5 687v1M888.5 660v1M457.5 693v1M385.5 695v1M858.5 627v2M761.5 695v1M926.5 628v1M153.5 666v3M165.5 641v2M393.5 686v1M613.5 689v1M707.5 616v1M465.5 683v1M846.5 630v2M197.5 621v1M713.5 623v1M887.5 659v1M492.5 673v1M544.5 673v2M325.5 653v2M388.5 692v1M830.5 655v1M918.5 637v1M760.5 693v2M823.5 661v1M857.5 625v2M680.5 612v1M415.5 677v1M332.5 669v2M234.5 619v2M534.5 651v2M427.5 678v1M346.5 698v2M818.5 667v1M652.5 653v1M675.5 617v2M306.5 644v1M495.5 669v1M738.5 674v1M515.5 656v1M347.5 700v1M434.5 686v1M310.5 641v1M445.5 695v1M548.5 680v1M249.5 631v1M324.5 651v2M253.5 628v1M460.5 689v1M287.5 626v1M897.5 671v1M845.5 632v2M507.5 665v1M655.5 648v2M658.5 645v1M875.5 660v2M898.5 672v1M741.5 678v2M305.5 643v1M533.5 649v2M764.5 699v1M345.5 696v2M200.5 617v1M294.5 633v1M742.5 680v1M547.5 679v1M806.5 701v1M904.5 678v1M586.5 688v1M716.5 627v1M130.5 683v1M245.5 633v1M411.5 674v1M152.5 669v2M510.5 662v1M513.5 658v1M395.5 684v1M890.5 663v1M353.5 705v1M763.5 698v1M674.5 619v2M608.5 684v1M440.5 691v1M441.5 692v1M237.5 624v1M874.5 658v2M403.5 674v1M238.5 625v1M615.5 691v1M825.5 659v1M188.5 633v1M407.5 671v1M191.5 629v1M682.5 610v1M871.5 653v1M829.5 656v1M379.5 703v1M925.5 629v1M581.5 685v1M856.5 624v1M920.5 635v1M406.5 670v1M817.5 668v1M387.5 693v1M744.5 683v1M194.5 625v1M708.5 617v1M348.5 701v1M248.5 632v1M917.5 638v1M550.5 683v1" fill="none" stroke="#e614e6" stroke-width="1" shape-rendering="crispEdges"/>
<text x="92.5" y="599" fill="#e8e8e8" font-size="12" font-family="&quot;Liberation Sans&quot;,&quot;Noto Sans CJK SC&quot;,sans-serif" font-weight="normal" text-anchor="start" textLength="56" lengthAdjust="spacingAndGlyphs" >KDJ(9,3,3)</text>
<text x="153.3" y="599" fill="#e8e8e8" font-size="12" font-family="&quot;Liberation Sans&quot;,&quot;Noto Sans CJK SC&quot;,sans-serif" font-weight="normal" text-anchor="start" textLength="41" lengthAdjust="spacingAndGlyphs" >K:66.69</text>
<text x="204" y="599" fill="#c8c814" font-size="12" font-family="&quot;Liberation Sans&quot;,&quot;Noto Sans CJK SC&quot;,sans-serif" font-weight="normal" text-anchor="start" textLength="41.5" lengthAdjust="spacingAndGlyphs" >D:54.60</text>
<text x="255" y="599" fill="#c81ec8" font-size="12" font-family="&quot;Liberation Sans&quot;,&quot;Noto Sans CJK SC&quot;,sans-serif" font-weight="normal" text-anchor="start" textLength="37.5" lengthAdjust="spacingAndGlyphs" >J:90.88</text>
<g stroke="#ee1111" stroke-width="1.1">
<line x1="34.0" y1="591.8" x2="36.2" y2="591.8"/>
<line x1="32.5" y1="595.5" x2="34.0" y2="597.0"/>
<line x1="28.8" y1="597.0" x2="28.8" y2="599.2"/>
<line x1="25.1" y1="595.5" x2="23.6" y2="597.0"/>
<line x1="23.6" y1="591.8" x2="21.4" y2="591.8"/>
<line x1="25.1" y1="588.1" x2="23.6" y2="586.6"/>
<line x1="28.8" y1="586.6" x2="28.8" y2="584.4"/>
<line x1="32.5" y1="588.1" x2="34.0" y2="586.6"/>
</g>
<circle cx="28.8" cy="591.8" r="3.2" fill="#fff"/><circle cx="28.8" cy="591.8" r="1.8" fill="#ee1111"/>
<text x="35" y="727" fill="#f0b040" font-size="12" font-family="&quot;Liberation Sans&quot;,&quot;Noto Sans CJK SC&quot;,sans-serif" font-weight="bold" text-anchor="start" textLength="24" lengthAdjust="spacingAndGlyphs" >日线</text>
<text x="62.7" y="726" fill="#f0a030" font-size="13" font-family="&quot;Liberation Sans&quot;,&quot;Noto Sans CJK SC&quot;,sans-serif" font-weight="normal" text-anchor="start" >▲</text>
<text x="228.5" y="724" fill="#b8b8b8" font-size="12" font-family="&quot;Liberation Sans&quot;,&quot;Noto Sans CJK SC&quot;,sans-serif" font-weight="bold" text-anchor="start" textLength="44.5" lengthAdjust="spacingAndGlyphs" >2022/08</text>
<rect x="226" y="712" width="1" height="5" fill="#2c2c2c"/>
<text x="458.5" y="724" fill="#b8b8b8" font-size="12" font-family="&quot;Liberation Sans&quot;,&quot;Noto Sans CJK SC&quot;,sans-serif" font-weight="bold" text-anchor="start" textLength="44.5" lengthAdjust="spacingAndGlyphs" >2022/09</text>
<rect x="456" y="712" width="1" height="5" fill="#2c2c2c"/>
<text x="678.5" y="724" fill="#b8b8b8" font-size="12" font-family="&quot;Liberation Sans&quot;,&quot;Noto Sans CJK SC&quot;,sans-serif" font-weight="bold" text-anchor="start" textLength="44.5" lengthAdjust="spacingAndGlyphs" >2022/10</text>
<rect x="676" y="712" width="1" height="5" fill="#2c2c2c"/>
<text x="888.5" y="724" fill="#b8b8b8" font-size="12" font-family="&quot;Liberation Sans&quot;,&quot;Noto Sans CJK SC&quot;,sans-serif" font-weight="bold" text-anchor="start" textLength="44.5" lengthAdjust="spacingAndGlyphs" >2022/11</text>
<rect x="886" y="712" width="1" height="5" fill="#2c2c2c"/>
<g shape-rendering="crispEdges"><rect x="735.5" y="711.5" width="110" height="17" fill="#000" stroke="#2c2c2c"/></g>
<text x="738" y="724" fill="#ec9038" font-size="12" font-family="&quot;Liberation Sans&quot;,&quot;Noto Sans CJK SC&quot;,sans-serif" font-weight="normal" text-anchor="start" textLength="63.3" lengthAdjust="spacingAndGlyphs" >2022/10/11</text>
<text x="808" y="724" fill="#ec9038" font-size="12" font-family="&quot;Liberation Sans&quot;,&quot;Noto Sans CJK SC&quot;,sans-serif" font-weight="normal" text-anchor="start" textLength="35.4" lengthAdjust="spacingAndGlyphs" >星期二</text>
<rect x="20" y="732" width="385" height="15" fill="#111113"/>
<rect x="59" y="732" width="40" height="15" fill="#3e404c"/>
<rect x="198" y="732" width="39" height="15" fill="#3e404c"/>
<rect x="99" y="732" width="1" height="15" fill="#2a2a2a"/>
<rect x="157" y="732" width="1" height="15" fill="#2a2a2a"/>
<rect x="198" y="732" width="1" height="15" fill="#2a2a2a"/>
<rect x="237" y="732" width="1" height="15" fill="#2a2a2a"/>
<rect x="277" y="732" width="1" height="15" fill="#2a2a2a"/>
<rect x="341" y="732" width="1" height="15" fill="#2a2a2a"/>
<rect x="405" y="732" width="1" height="15" fill="#2a2a2a"/>
<text x="28" y="744" fill="#b4b4b4" font-size="12" font-family="&quot;Liberation Sans&quot;,&quot;Noto Sans CJK SC&quot;,sans-serif" font-weight="normal" text-anchor="start" textLength="24" lengthAdjust="spacingAndGlyphs" >指标</text>
<text x="67" y="744" fill="#ffffff" font-size="12" font-family="&quot;Liberation Sans&quot;,&quot;Noto Sans CJK SC&quot;,sans-serif" font-weight="normal" text-anchor="start" textLength="24" lengthAdjust="spacingAndGlyphs" >模板</text>
<text x="108" y="744" fill="#f0c040" font-size="12" font-family="&quot;Liberation Serif&quot;,&quot;Noto Serif CJK SC&quot;,serif" font-weight="normal" text-anchor="start" textLength="42" lengthAdjust="spacingAndGlyphs" >VIP指标</text>
<text x="165" y="744" fill="#b4b4b4" font-size="12" font-family="&quot;Liberation Sans&quot;,&quot;Noto Sans CJK SC&quot;,sans-serif" font-weight="normal" text-anchor="start" textLength="24" lengthAdjust="spacingAndGlyphs" >标准</text>
<text x="206" y="744" fill="#ffffff" font-size="12" font-family="&quot;Liberation Serif&quot;,&quot;Noto Serif CJK SC&quot;,serif" font-weight="bold" text-anchor="start" textLength="23.5" lengthAdjust="spacingAndGlyphs" >MACD</text>
<text x="246" y="744" fill="#b4b4b4" font-size="12" font-family="&quot;Liberation Serif&quot;,&quot;Noto Serif CJK SC&quot;,serif" font-weight="normal" text-anchor="start" textLength="23.5" lengthAdjust="spacingAndGlyphs" >BOLL</text>
<text x="286.5" y="744" fill="#b4b4b4" font-size="12" font-family="&quot;Liberation Sans&quot;,&quot;Noto Sans CJK SC&quot;,sans-serif" font-weight="normal" text-anchor="start" textLength="47.5" lengthAdjust="spacingAndGlyphs" >另存模板</text>
<text x="349.5" y="744" fill="#b4b4b4" font-size="12" font-family="&quot;Liberation Sans&quot;,&quot;Noto Sans CJK SC&quot;,sans-serif" font-weight="normal" text-anchor="start" textLength="48" lengthAdjust="spacingAndGlyphs" >管理模板</text>
</svg>
</body></html>
